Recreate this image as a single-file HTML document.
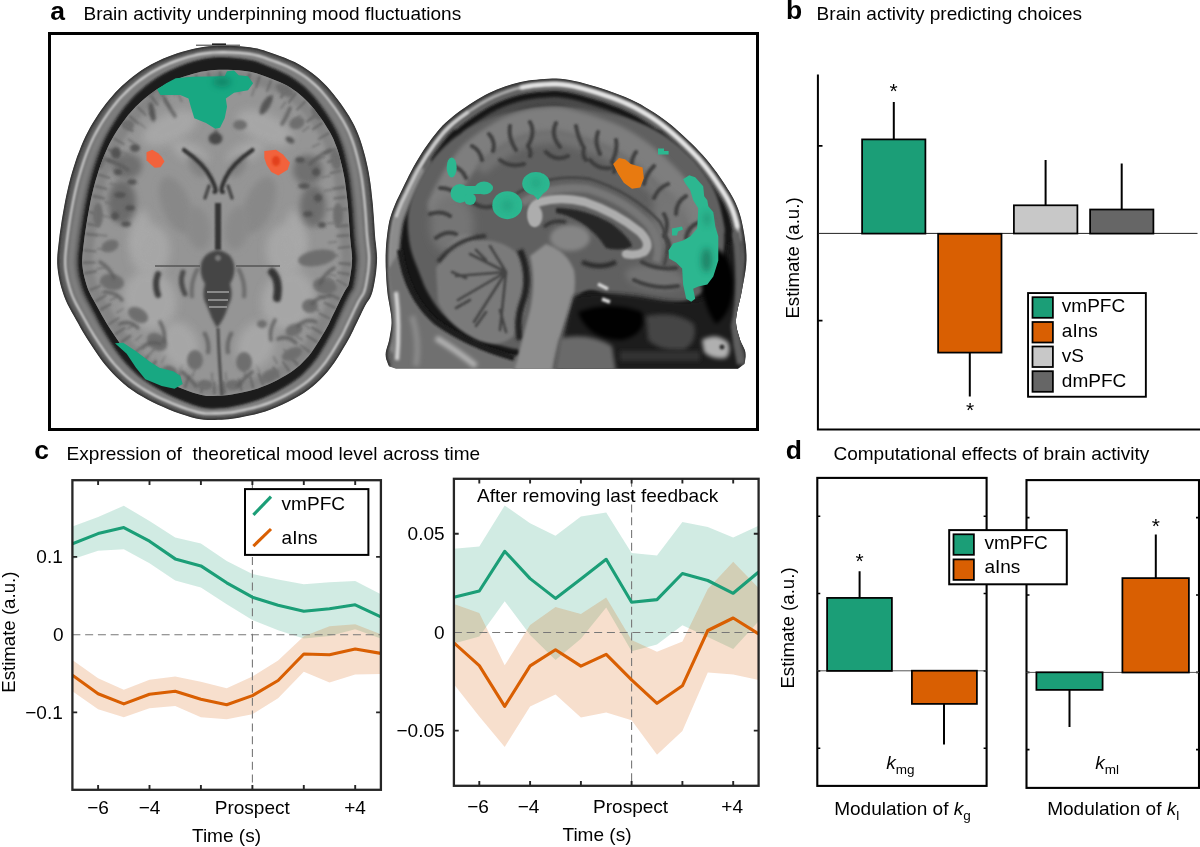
<!DOCTYPE html>
<html><head><meta charset="utf-8"><title>Figure</title>
<style>
html,body{margin:0;padding:0;background:#fff;}
body{width:1200px;height:847px;overflow:hidden;font-family:"Liberation Sans",sans-serif;}
svg{display:block;position:absolute;left:0;top:0;}
.t{font-family:"Liberation Sans",sans-serif;font-size:19.05px;fill:#000;}
.m{text-anchor:middle;}
.e{text-anchor:end;}
.i{font-style:italic;}
.sub{font-size:13.5px;}
.as{font-size:21px;}
.yl{font-size:18.65px;}
.pl{font-family:"Liberation Sans",sans-serif;font-weight:bold;font-size:26.5px;fill:#000;}
</style></head>
<body>
<svg width="1200" height="847" viewBox="0 0 1200 847">
<rect width="1200" height="847" fill="#fff"/>
<g opacity="0.999">
<!-- panel a -->
<g id="panel-a">
<defs>
<filter id="b05" filterUnits="userSpaceOnUse" x="40" y="30" width="730" height="410"><feGaussianBlur stdDeviation="0.5"/></filter>
<filter id="b1" filterUnits="userSpaceOnUse" x="40" y="30" width="730" height="410"><feGaussianBlur stdDeviation="1.0"/></filter>
<filter id="b15" filterUnits="userSpaceOnUse" x="40" y="30" width="730" height="410"><feGaussianBlur stdDeviation="1.5"/></filter>
<filter id="b2" filterUnits="userSpaceOnUse" x="40" y="30" width="730" height="410"><feGaussianBlur stdDeviation="2.0"/></filter>
<filter id="b3" filterUnits="userSpaceOnUse" x="40" y="30" width="730" height="410"><feGaussianBlur stdDeviation="3.0"/></filter>
<filter id="b4" filterUnits="userSpaceOnUse" x="40" y="30" width="730" height="410"><feGaussianBlur stdDeviation="4.0"/></filter>
<filter id="b6" filterUnits="userSpaceOnUse" x="40" y="30" width="730" height="410"><feGaussianBlur stdDeviation="6.0"/></filter>
<clipPath id="cpAout"><path d="M218.0 45.8 L223.1 45.7 L228.7 45.8 L234.3 46.0 L240.0 46.3 L245.2 46.8 L250.0 47.3 L254.0 47.9 L257.5 48.6 L260.6 49.4 L263.7 50.3 L267.0 51.4 L270.8 52.7 L275.1 54.2 L279.9 55.9 L284.8 57.8 L289.8 59.9 L294.7 62.1 L299.2 64.5 L303.4 67.0 L307.5 69.7 L311.4 72.5 L315.3 75.5 L319.1 78.7 L322.8 82.2 L326.6 86.1 L330.3 90.3 L334.0 94.7 L337.5 99.2 L340.9 103.8 L344.0 108.2 L346.8 112.5 L349.4 116.6 L351.8 120.8 L354.1 125.0 L356.2 129.5 L358.2 134.2 L360.1 139.3 L361.9 144.7 L363.5 150.3 L365.1 155.9 L366.4 161.6 L367.7 167.2 L368.8 172.7 L369.7 178.2 L370.5 183.6 L371.2 189.1 L371.8 194.7 L372.4 200.3 L373.0 206.1 L373.4 212.0 L373.9 218.0 L374.3 223.9 L374.6 229.6 L375.0 235.0 L375.4 239.9 L376.0 244.5 L376.4 248.8 L376.8 253.1 L377.1 257.4 L377.0 262.0 L376.6 267.0 L376.1 272.4 L375.3 277.8 L374.4 283.1 L373.4 287.9 L372.4 292.0 L371.3 295.2 L370.2 297.7 L369.0 299.7 L367.7 301.6 L366.4 303.6 L365.0 306.0 L363.6 308.8 L362.1 311.8 L360.6 314.9 L359.1 318.1 L357.6 321.3 L356.0 324.5 L354.5 327.5 L353.2 330.4 L351.8 333.3 L350.3 336.3 L348.5 339.6 L346.4 343.3 L343.8 347.6 L341.0 352.3 L337.8 357.4 L334.5 362.4 L331.0 367.3 L327.5 371.7 L323.9 375.7 L320.3 379.5 L316.6 383.0 L312.6 386.4 L308.4 389.7 L303.9 392.9 L298.9 396.0 L293.5 399.1 L287.8 402.0 L282.0 404.8 L276.3 407.3 L270.8 409.5 L265.4 411.4 L260.0 413.0 L254.7 414.4 L249.5 415.6 L244.6 416.6 L240.0 417.5 L235.8 418.3 L232.0 418.8 L228.4 419.2 L225.0 419.5 L221.6 419.7 L218.0 419.8 L214.5 419.9 L211.1 420.0 L207.7 420.0 L204.1 419.8 L200.3 419.3 L196.0 418.5 L191.1 417.2 L185.8 415.6 L180.2 413.8 L174.4 411.7 L168.8 409.4 L163.3 407.1 L158.0 404.7 L152.7 402.2 L147.4 399.5 L142.2 396.6 L137.3 393.7 L132.6 390.6 L128.2 387.4 L124.0 384.0 L120.1 380.5 L116.3 376.9 L112.6 373.2 L109.0 369.3 L105.5 365.2 L102.1 360.9 L98.9 356.4 L95.8 352.0 L92.8 347.5 L90.0 343.3 L87.4 339.2 L84.9 335.3 L82.6 331.4 L80.3 327.5 L78.2 323.6 L76.0 319.7 L73.8 315.8 L71.6 312.0 L69.5 308.1 L67.5 304.2 L65.7 300.2 L64.0 296.0 L62.5 291.6 L61.1 287.0 L59.9 282.3 L58.9 277.5 L58.1 272.7 L57.5 268.0 L57.2 263.5 L57.2 259.1 L57.4 254.7 L57.8 250.2 L58.4 245.3 L59.0 240.0 L59.7 234.0 L60.7 227.4 L61.7 220.5 L62.9 213.5 L64.1 206.7 L65.3 200.3 L66.5 194.4 L67.8 188.7 L69.1 183.2 L70.5 177.8 L72.0 172.5 L73.6 167.2 L75.3 161.9 L77.1 156.6 L79.1 151.4 L81.1 146.3 L83.2 141.3 L85.4 136.5 L87.7 131.9 L90.2 127.3 L92.7 123.0 L95.4 118.7 L98.1 114.6 L100.8 110.6 L103.6 106.7 L106.4 103.0 L109.3 99.4 L112.3 96.0 L115.3 92.6 L118.5 89.3 L121.8 86.1 L125.2 83.0 L128.7 79.9 L132.3 77.0 L136.0 74.2 L139.7 71.6 L143.4 69.1 L147.2 66.8 L151.0 64.6 L155.0 62.5 L159.1 60.5 L163.3 58.6 L167.8 56.8 L172.5 55.0 L177.3 53.3 L182.2 51.8 L187.0 50.4 L191.7 49.2 L196.1 48.2 L200.4 47.4 L204.6 46.8 L208.9 46.3 L213.3 46.0Z"/></clipPath>
<clipPath id="cpAbrain"><path d="M218.7 69.8 L223.1 69.7 L228.1 69.8 L233.2 70.0 L238.3 70.3 L242.9 70.8 L246.9 71.2 L250.0 71.7 L252.3 72.2 L254.2 72.7 L256.4 73.3 L259.2 74.3 L262.8 75.6 L267.0 77.1 L271.4 78.7 L275.8 80.4 L280.1 82.2 L283.9 84.0 L287.3 85.8 L290.6 87.8 L293.8 89.9 L296.8 92.1 L299.8 94.4 L302.7 97.0 L305.6 99.7 L308.6 102.8 L311.7 106.3 L314.8 110.1 L317.9 114.2 L320.9 118.2 L323.6 122.1 L326.0 125.9 L328.2 129.4 L330.2 132.7 L331.9 136.1 L333.6 139.6 L335.1 143.4 L336.7 147.5 L338.2 152.1 L339.6 157.0 L340.9 162.1 L342.2 167.3 L343.3 172.3 L344.3 177.2 L345.1 182.0 L345.7 186.9 L346.4 192.1 L347.0 197.4 L347.6 202.8 L348.1 208.3 L348.5 213.9 L348.9 219.7 L349.3 225.6 L349.7 231.3 L350.1 237.0 L350.6 242.4 L351.1 247.3 L351.6 251.4 L351.9 254.8 L352.1 257.9 L352.0 260.9 L351.8 264.8 L351.3 269.3 L350.6 274.0 L349.9 278.5 L349.1 282.5 L348.4 285.2 L348.1 286.2 L348.1 286.1 L348.0 286.2 L347.0 287.6 L345.1 290.6 L343.0 294.4 L341.3 297.8 L339.7 301.0 L338.2 304.2 L336.7 307.3 L335.2 310.4 L333.7 313.6 L332.1 316.8 L330.7 319.8 L329.5 322.4 L328.3 324.9 L326.9 327.5 L325.1 330.7 L322.7 334.8 L319.9 339.4 L317.0 344.0 L314.1 348.5 L311.4 352.5 L308.7 355.9 L305.9 359.0 L303.0 362.1 L300.1 364.9 L297.1 367.5 L293.9 370.0 L290.4 372.5 L286.4 375.1 L281.9 377.6 L277.0 380.2 L271.9 382.7 L266.9 384.9 L262.2 386.8 L257.9 388.4 L253.5 389.7 L249.0 390.9 L244.4 392.0 L239.8 393.0 L235.5 393.8 L231.9 394.5 L228.9 395.0 L226.1 395.3 L223.4 395.5 L220.6 395.7 L217.3 395.8 L213.7 395.9 L210.7 396.0 L208.3 396.0 L206.3 395.9 L204.1 395.6 L201.4 395.0 L197.7 394.0 L193.1 392.7 L188.2 391.0 L183.0 389.0 L177.9 387.0 L173.0 384.9 L168.2 382.7 L163.4 380.4 L158.8 377.9 L154.3 375.5 L150.3 373.0 L146.5 370.5 L143.1 368.0 L139.8 365.3 L136.6 362.4 L133.5 359.4 L130.4 356.2 L127.4 353.0 L124.6 349.6 L121.8 346.0 L119.0 342.1 L116.2 338.0 L113.4 333.8 L110.7 329.7 L108.3 325.9 L106.1 322.4 L104.0 318.8 L101.9 315.2 L99.9 311.5 L97.7 307.6 L95.5 303.6 L93.4 299.8 L91.5 296.4 L89.9 293.3 L88.6 290.4 L87.4 287.4 L86.3 284.0 L85.2 280.3 L84.2 276.5 L83.4 272.7 L82.8 269.1 L82.4 265.8 L82.2 262.7 L82.2 259.7 L82.4 256.5 L82.7 252.7 L83.2 248.1 L83.8 243.0 L84.5 237.3 L85.4 231.0 L86.4 224.4 L87.5 217.7 L88.7 211.2 L89.8 205.2 L90.9 199.6 L92.1 194.3 L93.3 189.2 L94.6 184.3 L95.9 179.5 L97.4 174.7 L98.9 169.8 L100.6 165.0 L102.3 160.2 L104.1 155.7 L105.9 151.4 L107.8 147.2 L109.7 143.3 L111.8 139.5 L113.9 135.7 L116.2 132.0 L118.6 128.3 L121.0 124.8 L123.4 121.4 L125.8 118.2 L128.2 115.1 L130.7 112.2 L133.2 109.4 L135.9 106.6 L138.6 103.9 L141.5 101.3 L144.4 98.7 L147.4 96.3 L150.4 93.9 L153.5 91.7 L156.6 89.6 L159.7 87.7 L162.8 85.9 L166.0 84.1 L169.4 82.5 L172.9 80.9 L176.7 79.3 L180.7 77.7 L184.9 76.2 L189.2 74.9 L193.3 73.7 L197.2 72.7 L200.9 71.8 L204.4 71.2 L207.7 70.7 L211.1 70.3 L214.8 70.0Z"/></clipPath>
</defs>
<g id="axial">
<g clip-path="url(#cpAout)">
<path d="M218.0 45.8 L223.1 45.7 L228.7 45.8 L234.3 46.0 L240.0 46.3 L245.2 46.8 L250.0 47.3 L254.0 47.9 L257.5 48.6 L260.6 49.4 L263.7 50.3 L267.0 51.4 L270.8 52.7 L275.1 54.2 L279.9 55.9 L284.8 57.8 L289.8 59.9 L294.7 62.1 L299.2 64.5 L303.4 67.0 L307.5 69.7 L311.4 72.5 L315.3 75.5 L319.1 78.7 L322.8 82.2 L326.6 86.1 L330.3 90.3 L334.0 94.7 L337.5 99.2 L340.9 103.8 L344.0 108.2 L346.8 112.5 L349.4 116.6 L351.8 120.8 L354.1 125.0 L356.2 129.5 L358.2 134.2 L360.1 139.3 L361.9 144.7 L363.5 150.3 L365.1 155.9 L366.4 161.6 L367.7 167.2 L368.8 172.7 L369.7 178.2 L370.5 183.6 L371.2 189.1 L371.8 194.7 L372.4 200.3 L373.0 206.1 L373.4 212.0 L373.9 218.0 L374.3 223.9 L374.6 229.6 L375.0 235.0 L375.4 239.9 L376.0 244.5 L376.4 248.8 L376.8 253.1 L377.1 257.4 L377.0 262.0 L376.6 267.0 L376.1 272.4 L375.3 277.8 L374.4 283.1 L373.4 287.9 L372.4 292.0 L371.3 295.2 L370.2 297.7 L369.0 299.7 L367.7 301.6 L366.4 303.6 L365.0 306.0 L363.6 308.8 L362.1 311.8 L360.6 314.9 L359.1 318.1 L357.6 321.3 L356.0 324.5 L354.5 327.5 L353.2 330.4 L351.8 333.3 L350.3 336.3 L348.5 339.6 L346.4 343.3 L343.8 347.6 L341.0 352.3 L337.8 357.4 L334.5 362.4 L331.0 367.3 L327.5 371.7 L323.9 375.7 L320.3 379.5 L316.6 383.0 L312.6 386.4 L308.4 389.7 L303.9 392.9 L298.9 396.0 L293.5 399.1 L287.8 402.0 L282.0 404.8 L276.3 407.3 L270.8 409.5 L265.4 411.4 L260.0 413.0 L254.7 414.4 L249.5 415.6 L244.6 416.6 L240.0 417.5 L235.8 418.3 L232.0 418.8 L228.4 419.2 L225.0 419.5 L221.6 419.7 L218.0 419.8 L214.5 419.9 L211.1 420.0 L207.7 420.0 L204.1 419.8 L200.3 419.3 L196.0 418.5 L191.1 417.2 L185.8 415.6 L180.2 413.8 L174.4 411.7 L168.8 409.4 L163.3 407.1 L158.0 404.7 L152.7 402.2 L147.4 399.5 L142.2 396.6 L137.3 393.7 L132.6 390.6 L128.2 387.4 L124.0 384.0 L120.1 380.5 L116.3 376.9 L112.6 373.2 L109.0 369.3 L105.5 365.2 L102.1 360.9 L98.9 356.4 L95.8 352.0 L92.8 347.5 L90.0 343.3 L87.4 339.2 L84.9 335.3 L82.6 331.4 L80.3 327.5 L78.2 323.6 L76.0 319.7 L73.8 315.8 L71.6 312.0 L69.5 308.1 L67.5 304.2 L65.7 300.2 L64.0 296.0 L62.5 291.6 L61.1 287.0 L59.9 282.3 L58.9 277.5 L58.1 272.7 L57.5 268.0 L57.2 263.5 L57.2 259.1 L57.4 254.7 L57.8 250.2 L58.4 245.3 L59.0 240.0 L59.7 234.0 L60.7 227.4 L61.7 220.5 L62.9 213.5 L64.1 206.7 L65.3 200.3 L66.5 194.4 L67.8 188.7 L69.1 183.2 L70.5 177.8 L72.0 172.5 L73.6 167.2 L75.3 161.9 L77.1 156.6 L79.1 151.4 L81.1 146.3 L83.2 141.3 L85.4 136.5 L87.7 131.9 L90.2 127.3 L92.7 123.0 L95.4 118.7 L98.1 114.6 L100.8 110.6 L103.6 106.7 L106.4 103.0 L109.3 99.4 L112.3 96.0 L115.3 92.6 L118.5 89.3 L121.8 86.1 L125.2 83.0 L128.7 79.9 L132.3 77.0 L136.0 74.2 L139.7 71.6 L143.4 69.1 L147.2 66.8 L151.0 64.6 L155.0 62.5 L159.1 60.5 L163.3 58.6 L167.8 56.8 L172.5 55.0 L177.3 53.3 L182.2 51.8 L187.0 50.4 L191.7 49.2 L196.1 48.2 L200.4 47.4 L204.6 46.8 L208.9 46.3 L213.3 46.0Z" fill="#5e5e5e"/>
<path d="M218.3 54.8 L223.1 54.8 L228.4 54.9 L233.9 55.3 L239.3 55.7 L244.3 56.2 L248.8 56.8 L252.4 57.5 L255.4 58.2 L258.0 58.9 L260.7 59.8 L263.8 60.9 L267.4 62.3 L271.7 63.9 L276.2 65.7 L280.9 67.7 L285.5 69.7 L289.9 71.9 L293.8 74.1 L297.6 76.5 L301.2 79.0 L304.6 81.6 L308.0 84.4 L311.3 87.4 L314.6 90.6 L317.9 94.2 L321.2 98.1 L324.5 102.3 L327.8 106.7 L330.8 111.0 L333.6 115.3 L336.2 119.3 L338.5 123.2 L340.6 127.0 L342.5 130.8 L344.3 134.8 L346.0 139.1 L347.7 143.7 L349.2 148.6 L350.7 153.9 L352.0 159.3 L353.3 164.7 L354.4 170.0 L355.3 175.1 L356.1 180.3 L356.8 185.5 L357.4 190.8 L358.0 196.2 L358.6 201.7 L359.1 207.3 L359.5 213.1 L359.9 219.0 L360.3 224.9 L360.7 230.6 L361.0 236.1 L361.5 241.3 L362.1 246.0 L362.5 250.2 L362.9 254.0 L363.1 257.7 L363.1 261.4 L362.8 265.8 L362.3 270.6 L361.6 275.7 L360.9 280.5 L360.0 284.9 L359.2 288.3 L358.6 290.3 L358.2 291.4 L357.5 292.4 L356.5 294.0 L354.8 296.5 L353.1 299.7 L351.5 302.9 L350.1 306.0 L348.6 309.2 L347.1 312.4 L345.7 315.5 L344.2 318.7 L342.7 321.9 L341.4 324.8 L340.1 327.6 L338.8 330.4 L337.3 333.3 L335.4 336.8 L333.0 341.0 L330.3 345.7 L327.4 350.6 L324.4 355.5 L321.3 360.0 L318.3 364.0 L315.2 367.6 L312.0 371.1 L308.8 374.4 L305.4 377.6 L301.7 380.6 L297.7 383.6 L293.3 386.5 L288.3 389.5 L283.1 392.4 L277.6 395.2 L272.3 397.7 L267.2 400.0 L262.3 401.9 L257.4 403.5 L252.4 404.9 L247.5 406.2 L242.7 407.3 L238.3 408.3 L234.3 409.1 L230.8 409.7 L227.6 410.1 L224.4 410.4 L221.2 410.7 L217.7 410.8 L214.2 410.9 L210.9 410.9 L207.9 410.9 L204.9 410.7 L201.8 410.2 L198.1 409.4 L193.7 408.1 L188.7 406.5 L183.4 404.5 L178.0 402.4 L172.6 400.1 L167.4 397.7 L162.4 395.3 L157.3 392.7 L152.4 390.0 L147.6 387.2 L143.2 384.3 L139.0 381.4 L135.1 378.4 L131.4 375.2 L127.9 372.0 L124.5 368.5 L121.2 365.0 L118.0 361.3 L114.9 357.5 L112.0 353.5 L109.0 349.3 L106.1 344.9 L103.3 340.5 L100.7 336.3 L98.2 332.3 L95.9 328.5 L93.8 324.8 L91.7 321.0 L89.7 317.2 L87.6 313.3 L85.4 309.3 L83.3 305.4 L81.4 301.8 L79.7 298.3 L78.1 294.9 L76.8 291.3 L75.5 287.4 L74.4 283.3 L73.3 279.1 L72.4 274.9 L71.8 270.7 L71.3 266.8 L71.1 263.0 L71.2 259.4 L71.4 255.7 L71.8 251.6 L72.3 246.9 L72.9 241.7 L73.6 235.8 L74.5 229.4 L75.5 222.7 L76.6 215.8 L77.8 209.2 L78.9 203.0 L80.1 197.3 L81.2 191.8 L82.5 186.5 L83.7 181.4 L85.1 176.3 L86.5 171.3 L88.1 166.2 L89.8 161.1 L91.5 156.1 L93.3 151.3 L95.2 146.6 L97.2 142.2 L99.2 137.8 L101.4 133.6 L103.7 129.5 L106.0 125.5 L108.5 121.6 L111.0 117.7 L113.5 114.1 L116.0 110.5 L118.6 107.1 L121.2 103.9 L124.0 100.7 L126.8 97.6 L129.8 94.5 L132.9 91.5 L136.0 88.7 L139.3 85.9 L142.6 83.2 L145.9 80.7 L149.3 78.3 L152.7 76.0 L156.2 73.9 L159.7 71.8 L163.5 69.9 L167.3 68.0 L171.5 66.2 L175.9 64.4 L180.4 62.6 L185.0 61.1 L189.5 59.6 L193.9 58.4 L198.0 57.4 L201.9 56.6 L205.8 55.9 L209.7 55.4 L213.9 55.0Z" fill="none" stroke="#7e7e7e" stroke-width="7" filter="url(#b15)"/>
<path d="M218.0 45.8 L223.1 45.7 L228.7 45.8 L234.3 46.0 L240.0 46.3 L245.2 46.8 L250.0 47.3 L254.0 47.9 L257.5 48.6 L260.6 49.4 L263.7 50.3 L267.0 51.4 L270.8 52.7 L275.1 54.2 L279.9 55.9 L284.8 57.8 L289.8 59.9 L294.7 62.1 L299.2 64.5 L303.4 67.0 L307.5 69.7 L311.4 72.5 L315.3 75.5 L319.1 78.7 L322.8 82.2 L326.6 86.1 L330.3 90.3 L334.0 94.7 L337.5 99.2 L340.9 103.8 L344.0 108.2 L346.8 112.5 L349.4 116.6 L351.8 120.8 L354.1 125.0 L356.2 129.5 L358.2 134.2 L360.1 139.3 L361.9 144.7 L363.5 150.3 L365.1 155.9 L366.4 161.6 L367.7 167.2 L368.8 172.7 L369.7 178.2 L370.5 183.6 L371.2 189.1 L371.8 194.7 L372.4 200.3 L373.0 206.1 L373.4 212.0 L373.9 218.0 L374.3 223.9 L374.6 229.6 L375.0 235.0 L375.4 239.9 L376.0 244.5 L376.4 248.8 L376.8 253.1 L377.1 257.4 L377.0 262.0 L376.6 267.0 L376.1 272.4 L375.3 277.8 L374.4 283.1 L373.4 287.9 L372.4 292.0 L371.3 295.2 L370.2 297.7 L369.0 299.7 L367.7 301.6 L366.4 303.6 L365.0 306.0 L363.6 308.8 L362.1 311.8 L360.6 314.9 L359.1 318.1 L357.6 321.3 L356.0 324.5 L354.5 327.5 L353.2 330.4 L351.8 333.3 L350.3 336.3 L348.5 339.6 L346.4 343.3 L343.8 347.6 L341.0 352.3 L337.8 357.4 L334.5 362.4 L331.0 367.3 L327.5 371.7 L323.9 375.7 L320.3 379.5 L316.6 383.0 L312.6 386.4 L308.4 389.7 L303.9 392.9 L298.9 396.0 L293.5 399.1 L287.8 402.0 L282.0 404.8 L276.3 407.3 L270.8 409.5 L265.4 411.4 L260.0 413.0 L254.7 414.4 L249.5 415.6 L244.6 416.6 L240.0 417.5 L235.8 418.3 L232.0 418.8 L228.4 419.2 L225.0 419.5 L221.6 419.7 L218.0 419.8 L214.5 419.9 L211.1 420.0 L207.7 420.0 L204.1 419.8 L200.3 419.3 L196.0 418.5 L191.1 417.2 L185.8 415.6 L180.2 413.8 L174.4 411.7 L168.8 409.4 L163.3 407.1 L158.0 404.7 L152.7 402.2 L147.4 399.5 L142.2 396.6 L137.3 393.7 L132.6 390.6 L128.2 387.4 L124.0 384.0 L120.1 380.5 L116.3 376.9 L112.6 373.2 L109.0 369.3 L105.5 365.2 L102.1 360.9 L98.9 356.4 L95.8 352.0 L92.8 347.5 L90.0 343.3 L87.4 339.2 L84.9 335.3 L82.6 331.4 L80.3 327.5 L78.2 323.6 L76.0 319.7 L73.8 315.8 L71.6 312.0 L69.5 308.1 L67.5 304.2 L65.7 300.2 L64.0 296.0 L62.5 291.6 L61.1 287.0 L59.9 282.3 L58.9 277.5 L58.1 272.7 L57.5 268.0 L57.2 263.5 L57.2 259.1 L57.4 254.7 L57.8 250.2 L58.4 245.3 L59.0 240.0 L59.7 234.0 L60.7 227.4 L61.7 220.5 L62.9 213.5 L64.1 206.7 L65.3 200.3 L66.5 194.4 L67.8 188.7 L69.1 183.2 L70.5 177.8 L72.0 172.5 L73.6 167.2 L75.3 161.9 L77.1 156.6 L79.1 151.4 L81.1 146.3 L83.2 141.3 L85.4 136.5 L87.7 131.9 L90.2 127.3 L92.7 123.0 L95.4 118.7 L98.1 114.6 L100.8 110.6 L103.6 106.7 L106.4 103.0 L109.3 99.4 L112.3 96.0 L115.3 92.6 L118.5 89.3 L121.8 86.1 L125.2 83.0 L128.7 79.9 L132.3 77.0 L136.0 74.2 L139.7 71.6 L143.4 69.1 L147.2 66.8 L151.0 64.6 L155.0 62.5 L159.1 60.5 L163.3 58.6 L167.8 56.8 L172.5 55.0 L177.3 53.3 L182.2 51.8 L187.0 50.4 L191.7 49.2 L196.1 48.2 L200.4 47.4 L204.6 46.8 L208.9 46.3 L213.3 46.0Z" fill="none" stroke="#2e2e2e" stroke-width="3.5" filter="url(#b1)"/>
<path d="M218.2 52.3 L223.1 52.2 L228.5 52.3 L234.0 52.6 L239.5 52.9 L244.6 53.4 L249.1 53.9 L252.9 54.5 L256.0 55.2 L258.8 55.9 L261.7 56.8 L264.8 57.8 L268.5 59.2 L272.8 60.7 L277.5 62.4 L282.2 64.3 L287.0 66.3 L291.5 68.5 L295.7 70.7 L299.7 73.1 L303.5 75.6 L307.1 78.2 L310.7 81.1 L314.2 84.1 L317.7 87.4 L321.2 91.1 L324.7 95.1 L328.2 99.4 L331.6 103.8 L334.8 108.2 L337.8 112.5 L340.4 116.6 L342.9 120.5 L345.1 124.5 L347.2 128.5 L349.2 132.6 L351.0 137.1 L352.8 141.9 L354.5 147.0 L356.0 152.4 L357.5 157.9 L358.8 163.4 L360.0 168.8 L361.0 174.1 L361.9 179.4 L362.6 184.7 L363.3 190.1 L363.9 195.6 L364.5 201.1 L365.0 206.8 L365.5 212.6 L365.9 218.6 L366.3 224.5 L366.6 230.2 L367.0 235.6 L367.5 240.7 L368.0 245.4 L368.5 249.6 L368.9 253.6 L369.1 257.6 L369.0 261.7 L368.7 266.3 L368.2 271.4 L367.4 276.6 L366.6 281.6 L365.7 286.2 L364.8 289.9 L364.0 292.4 L363.2 294.0 L362.4 295.5 L361.2 297.2 L359.7 299.5 L358.1 302.3 L356.6 305.4 L355.1 308.4 L353.6 311.6 L352.1 314.8 L350.6 317.9 L349.0 321.1 L347.6 324.2 L346.2 327.1 L344.9 329.9 L343.5 332.8 L341.9 335.9 L339.8 339.4 L337.3 343.6 L334.5 348.4 L331.5 353.3 L328.3 358.2 L325.1 362.8 L321.8 366.9 L318.5 370.7 L315.2 374.3 L311.7 377.6 L308.1 380.8 L304.2 383.9 L299.9 386.9 L295.3 389.9 L290.1 392.9 L284.7 395.7 L279.1 398.4 L273.6 400.9 L268.4 403.1 L263.3 404.9 L258.2 406.5 L253.1 407.9 L248.1 409.0 L243.3 410.1 L238.8 411.0 L234.7 411.8 L231.2 412.3 L227.8 412.7 L224.6 413.0 L221.3 413.2 L217.8 413.3 L214.3 413.4 L211.0 413.5 L207.9 413.5 L204.7 413.3 L201.3 412.8 L197.5 412.1 L192.9 410.8 L187.8 409.3 L182.4 407.4 L176.9 405.3 L171.3 403.1 L166.1 400.8 L160.9 398.4 L155.7 395.9 L150.7 393.3 L145.7 390.5 L141.1 387.7 L136.7 384.7 L132.6 381.7 L128.7 378.5 L125.0 375.2 L121.4 371.7 L117.9 368.1 L114.5 364.4 L111.3 360.5 L108.1 356.4 L105.0 352.1 L102.0 347.7 L99.1 343.3 L96.4 339.1 L93.8 335.1 L91.5 331.3 L89.2 327.5 L87.1 323.7 L84.9 319.8 L82.8 315.9 L80.6 312.0 L78.5 308.2 L76.4 304.4 L74.6 300.8 L72.9 297.1 L71.4 293.3 L70.0 289.2 L68.8 284.9 L67.6 280.4 L66.7 276.0 L65.9 271.6 L65.4 267.3 L65.2 263.2 L65.2 259.3 L65.4 255.3 L65.8 251.0 L66.3 246.2 L66.9 241.0 L67.7 235.0 L68.6 228.5 L69.6 221.7 L70.7 214.8 L71.9 208.1 L73.1 201.9 L74.3 196.0 L75.5 190.5 L76.8 185.1 L78.1 179.9 L79.6 174.7 L81.1 169.6 L82.8 164.4 L84.5 159.2 L86.3 154.2 L88.3 149.2 L90.3 144.4 L92.4 139.8 L94.5 135.4 L96.9 131.1 L99.3 126.9 L101.8 122.8 L104.3 118.8 L107.0 114.9 L109.6 111.2 L112.3 107.6 L115.0 104.2 L117.8 100.8 L120.7 97.6 L123.7 94.5 L126.8 91.4 L130.0 88.4 L133.4 85.5 L136.8 82.7 L140.2 80.0 L143.7 77.5 L147.2 75.1 L150.8 72.8 L154.4 70.7 L158.1 68.7 L162.0 66.8 L166.0 64.9 L170.3 63.1 L174.8 61.4 L179.5 59.7 L184.1 58.2 L188.8 56.8 L193.2 55.7 L197.4 54.7 L201.5 53.9 L205.5 53.3 L209.5 52.9 L213.7 52.5Z" fill="none" stroke="#dadada" stroke-width="2.2" filter="url(#b1)"/>
<path d="M218.3 57.3 L223.1 57.3 L228.4 57.6 L233.8 58.0 L239.1 58.5 L244.1 59.2 L248.4 59.9 L251.9 60.6 L254.7 61.3 L257.1 62.1 L259.7 63.0 L262.7 64.2 L266.3 65.7 L270.5 67.4 L274.9 69.3 L279.5 71.3 L283.9 73.4 L288.0 75.6 L291.8 77.9 L295.2 80.2 L298.6 82.7 L301.9 85.3 L305.0 88.0 L308.0 91.0 L311.1 94.2 L314.1 97.6 L317.2 101.5 L320.4 105.7 L323.4 110.0 L326.3 114.3 L329.0 118.5 L331.4 122.4 L333.5 126.2 L335.4 129.8 L337.1 133.5 L338.7 137.3 L340.3 141.4 L341.8 145.8 L343.2 150.5 L344.5 155.6 L345.7 160.9 L346.9 166.2 L347.9 171.4 L348.8 176.3 L349.5 181.3 L350.1 186.4 L350.7 191.6 L351.2 197.0 L351.7 202.4 L352.2 207.9 L352.6 213.6 L353.0 219.5 L353.3 225.3 L353.7 231.1 L354.1 236.7 L354.6 242.0 L355.1 246.8 L355.6 250.9 L356.0 254.5 L356.2 257.8 L356.2 261.1 L355.9 265.1 L355.5 269.8 L354.9 274.6 L354.2 279.3 L353.4 283.4 L352.8 286.5 L352.4 287.9 L352.3 288.3 L352.0 288.8 L351.0 290.3 L349.2 293.1 L347.3 296.7 L345.7 300.0 L344.3 303.2 L342.8 306.4 L341.4 309.6 L340.0 312.8 L338.6 316.0 L337.1 319.2 L335.8 322.2 L334.6 324.9 L333.5 327.6 L332.1 330.4 L330.3 333.8 L328.0 338.0 L325.4 342.8 L322.7 347.6 L319.8 352.4 L317.1 356.8 L314.3 360.6 L311.5 364.2 L308.5 367.6 L305.5 370.8 L302.4 373.9 L298.9 376.9 L295.2 379.8 L291.0 382.8 L286.3 385.8 L281.3 388.8 L276.0 391.7 L270.8 394.3 L265.9 396.6 L261.2 398.6 L256.5 400.3 L251.6 401.8 L246.8 403.2 L242.1 404.4 L237.7 405.5 L233.9 406.3 L230.5 407.0 L227.3 407.5 L224.2 407.9 L221.1 408.1 L217.6 408.3 L214.1 408.4 L210.9 408.4 L208.0 408.3 L205.2 408.0 L202.2 407.5 L198.7 406.6 L194.5 405.3 L189.7 403.6 L184.5 401.5 L179.1 399.3 L173.9 396.9 L168.8 394.4 L163.9 391.9 L159.1 389.2 L154.3 386.4 L149.7 383.6 L145.5 380.7 L141.5 377.7 L137.9 374.7 L134.5 371.6 L131.2 368.4 L128.0 365.0 L124.9 361.5 L121.9 357.8 L119.1 354.1 L116.3 350.2 L113.6 346.0 L110.8 341.7 L108.1 337.3 L105.6 333.1 L103.2 329.1 L101.1 325.4 L99.1 321.7 L97.1 317.9 L95.2 314.1 L93.1 310.2 L91.0 306.1 L89.0 302.3 L87.2 298.7 L85.6 295.4 L84.2 292.3 L83.1 289.0 L81.9 285.4 L80.9 281.5 L79.9 277.5 L79.1 273.6 L78.6 269.8 L78.2 266.2 L78.1 262.8 L78.1 259.6 L78.3 256.2 L78.7 252.3 L79.2 247.7 L79.8 242.5 L80.6 236.7 L81.4 230.4 L82.4 223.8 L83.5 217.0 L84.6 210.4 L85.7 204.4 L86.8 198.7 L87.9 193.3 L89.0 188.2 L90.2 183.1 L91.5 178.2 L92.8 173.2 L94.3 168.2 L95.9 163.3 L97.5 158.4 L99.2 153.7 L100.9 149.1 L102.7 144.8 L104.6 140.6 L106.6 136.6 L108.7 132.5 L110.9 128.6 L113.2 124.7 L115.5 120.9 L117.9 117.3 L120.2 113.8 L122.6 110.5 L125.1 107.3 L127.7 104.2 L130.3 101.1 L133.1 98.1 L136.0 95.1 L139.0 92.2 L142.1 89.4 L145.2 86.7 L148.3 84.2 L151.6 81.8 L154.8 79.5 L158.1 77.3 L161.5 75.3 L165.0 73.3 L168.8 71.3 L172.8 69.4 L177.0 67.5 L181.5 65.7 L185.9 64.1 L190.3 62.6 L194.5 61.3 L198.6 60.2 L202.4 59.3 L206.1 58.6 L210.0 58.0 L214.0 57.6Z" fill="#1c1c1c" filter="url(#b1)"/>
</g>
<path d="M196 45.2H240" stroke="#333" stroke-width="1"/><path d="M212 44.2h14" stroke="#222" stroke-width="1.6"/>
<path d="M218.7 69.8 L223.1 69.7 L228.1 69.8 L233.2 70.0 L238.3 70.3 L242.9 70.8 L246.9 71.2 L250.0 71.7 L252.3 72.2 L254.2 72.7 L256.4 73.3 L259.2 74.3 L262.8 75.6 L267.0 77.1 L271.4 78.7 L275.8 80.4 L280.1 82.2 L283.9 84.0 L287.3 85.8 L290.6 87.8 L293.8 89.9 L296.8 92.1 L299.8 94.4 L302.7 97.0 L305.6 99.7 L308.6 102.8 L311.7 106.3 L314.8 110.1 L317.9 114.2 L320.9 118.2 L323.6 122.1 L326.0 125.9 L328.2 129.4 L330.2 132.7 L331.9 136.1 L333.6 139.6 L335.1 143.4 L336.7 147.5 L338.2 152.1 L339.6 157.0 L340.9 162.1 L342.2 167.3 L343.3 172.3 L344.3 177.2 L345.1 182.0 L345.7 186.9 L346.4 192.1 L347.0 197.4 L347.6 202.8 L348.1 208.3 L348.5 213.9 L348.9 219.7 L349.3 225.6 L349.7 231.3 L350.1 237.0 L350.6 242.4 L351.1 247.3 L351.6 251.4 L351.9 254.8 L352.1 257.9 L352.0 260.9 L351.8 264.8 L351.3 269.3 L350.6 274.0 L349.9 278.5 L349.1 282.5 L348.4 285.2 L348.1 286.2 L348.1 286.1 L348.0 286.2 L347.0 287.6 L345.1 290.6 L343.0 294.4 L341.3 297.8 L339.7 301.0 L338.2 304.2 L336.7 307.3 L335.2 310.4 L333.7 313.6 L332.1 316.8 L330.7 319.8 L329.5 322.4 L328.3 324.9 L326.9 327.5 L325.1 330.7 L322.7 334.8 L319.9 339.4 L317.0 344.0 L314.1 348.5 L311.4 352.5 L308.7 355.9 L305.9 359.0 L303.0 362.1 L300.1 364.9 L297.1 367.5 L293.9 370.0 L290.4 372.5 L286.4 375.1 L281.9 377.6 L277.0 380.2 L271.9 382.7 L266.9 384.9 L262.2 386.8 L257.9 388.4 L253.5 389.7 L249.0 390.9 L244.4 392.0 L239.8 393.0 L235.5 393.8 L231.9 394.5 L228.9 395.0 L226.1 395.3 L223.4 395.5 L220.6 395.7 L217.3 395.8 L213.7 395.9 L210.7 396.0 L208.3 396.0 L206.3 395.9 L204.1 395.6 L201.4 395.0 L197.7 394.0 L193.1 392.7 L188.2 391.0 L183.0 389.0 L177.9 387.0 L173.0 384.9 L168.2 382.7 L163.4 380.4 L158.8 377.9 L154.3 375.5 L150.3 373.0 L146.5 370.5 L143.1 368.0 L139.8 365.3 L136.6 362.4 L133.5 359.4 L130.4 356.2 L127.4 353.0 L124.6 349.6 L121.8 346.0 L119.0 342.1 L116.2 338.0 L113.4 333.8 L110.7 329.7 L108.3 325.9 L106.1 322.4 L104.0 318.8 L101.9 315.2 L99.9 311.5 L97.7 307.6 L95.5 303.6 L93.4 299.8 L91.5 296.4 L89.9 293.3 L88.6 290.4 L87.4 287.4 L86.3 284.0 L85.2 280.3 L84.2 276.5 L83.4 272.7 L82.8 269.1 L82.4 265.8 L82.2 262.7 L82.2 259.7 L82.4 256.5 L82.7 252.7 L83.2 248.1 L83.8 243.0 L84.5 237.3 L85.4 231.0 L86.4 224.4 L87.5 217.7 L88.7 211.2 L89.8 205.2 L90.9 199.6 L92.1 194.3 L93.3 189.2 L94.6 184.3 L95.9 179.5 L97.4 174.7 L98.9 169.8 L100.6 165.0 L102.3 160.2 L104.1 155.7 L105.9 151.4 L107.8 147.2 L109.7 143.3 L111.8 139.5 L113.9 135.7 L116.2 132.0 L118.6 128.3 L121.0 124.8 L123.4 121.4 L125.8 118.2 L128.2 115.1 L130.7 112.2 L133.2 109.4 L135.9 106.6 L138.6 103.9 L141.5 101.3 L144.4 98.7 L147.4 96.3 L150.4 93.9 L153.5 91.7 L156.6 89.6 L159.7 87.7 L162.8 85.9 L166.0 84.1 L169.4 82.5 L172.9 80.9 L176.7 79.3 L180.7 77.7 L184.9 76.2 L189.2 74.9 L193.3 73.7 L197.2 72.7 L200.9 71.8 L204.4 71.2 L207.7 70.7 L211.1 70.3 L214.8 70.0Z" fill="#959595" filter="url(#b05)"/>
<g clip-path="url(#cpAbrain)"><g filter="url(#b05)">
<path d="M218.9 75.8 L223.2 75.7 L227.9 75.8 L232.9 76.0 L237.8 76.3 L242.4 76.6 L246.2 77.1 L249.0 77.5 L251.0 77.9 L252.7 78.3 L254.7 78.9 L257.3 79.8 L260.9 81.0 L265.1 82.5 L269.4 84.1 L273.7 85.7 L277.8 87.4 L281.4 89.1 L284.6 90.7 L287.6 92.5 L290.6 94.5 L293.5 96.5 L296.3 98.7 L299.0 101.0 L301.8 103.6 L304.6 106.5 L307.6 109.8 L310.6 113.5 L313.7 117.4 L316.6 121.3 L319.2 125.1 L321.6 128.7 L323.7 132.1 L325.6 135.3 L327.2 138.4 L328.8 141.8 L330.3 145.3 L331.8 149.3 L333.3 153.6 L334.7 158.4 L336.0 163.4 L337.2 168.5 L338.3 173.4 L339.3 178.1 L340.1 182.8 L340.7 187.6 L341.4 192.7 L342.0 198.0 L342.6 203.4 L343.1 208.7 L343.5 214.3 L343.9 220.1 L344.3 225.9 L344.7 231.7 L345.1 237.4 L345.6 242.9 L346.1 247.8 L346.6 251.9 L346.9 255.2 L347.1 257.9 L347.0 260.7 L346.8 264.3 L346.3 268.6 L345.6 273.2 L344.9 277.6 L344.1 281.4 L343.5 283.9 L343.4 284.4 L343.6 283.7 L343.7 283.5 L342.8 284.8 L340.7 288.0 L338.5 292.0 L336.7 295.6 L335.1 298.8 L333.6 302.0 L332.1 305.1 L330.6 308.2 L329.0 311.3 L327.5 314.6 L326.1 317.6 L324.8 320.2 L323.7 322.5 L322.4 325.0 L320.6 328.0 L318.1 332.1 L315.4 336.6 L312.6 341.2 L309.7 345.5 L307.1 349.2 L304.5 352.4 L301.9 355.4 L299.2 358.2 L296.4 360.8 L293.6 363.2 L290.6 365.6 L287.3 367.9 L283.6 370.2 L279.2 372.7 L274.5 375.1 L269.5 377.5 L264.6 379.6 L260.2 381.4 L256.1 382.9 L252.0 384.1 L247.6 385.2 L243.1 386.3 L238.7 387.2 L234.4 388.0 L230.9 388.7 L228.1 389.1 L225.5 389.4 L223.0 389.6 L220.3 389.7 L217.1 389.8 L213.6 389.9 L210.6 390.0 L208.5 390.0 L206.8 389.9 L205.1 389.7 L202.7 389.3 L199.3 388.4 L194.9 387.1 L190.1 385.4 L185.1 383.6 L180.1 381.6 L175.3 379.6 L170.6 377.5 L165.9 375.3 L161.4 372.9 L157.1 370.6 L153.2 368.3 L149.7 366.0 L146.5 363.6 L143.3 361.1 L140.3 358.4 L137.3 355.5 L134.3 352.5 L131.4 349.4 L128.8 346.2 L126.1 342.8 L123.4 339.1 L120.6 335.0 L117.8 330.9 L115.1 326.8 L112.7 323.1 L110.5 319.7 L108.4 316.2 L106.4 312.7 L104.4 309.0 L102.2 305.1 L100.0 301.1 L97.8 297.3 L96.0 294.0 L94.5 291.1 L93.2 288.4 L92.2 285.7 L91.1 282.5 L90.0 278.9 L89.1 275.3 L88.3 271.8 L87.7 268.4 L87.4 265.3 L87.2 262.6 L87.2 259.9 L87.4 256.8 L87.7 253.2 L88.2 248.7 L88.8 243.6 L89.5 237.9 L90.4 231.7 L91.4 225.2 L92.4 218.5 L93.6 212.1 L94.7 206.2 L95.9 200.7 L97.0 195.4 L98.2 190.4 L99.5 185.6 L100.8 180.9 L102.2 176.2 L103.8 171.4 L105.4 166.7 L107.1 162.1 L108.8 157.7 L110.6 153.4 L112.4 149.5 L114.3 145.7 L116.3 142.0 L118.4 138.4 L120.7 134.8 L123.0 131.3 L125.3 127.8 L127.7 124.6 L130.0 121.5 L132.4 118.6 L134.8 115.8 L137.2 113.1 L139.7 110.5 L142.4 107.9 L145.1 105.4 L148.0 102.9 L150.8 100.6 L153.8 98.4 L156.7 96.3 L159.6 94.4 L162.6 92.6 L165.5 90.8 L168.6 89.2 L171.8 87.7 L175.1 86.2 L178.8 84.7 L182.7 83.2 L186.8 81.8 L190.9 80.5 L194.8 79.3 L198.6 78.4 L202.1 77.6 L205.3 77.0 L208.5 76.6 L211.7 76.2 L215.1 76.0Z" fill="none" stroke="#848484" stroke-width="11" filter="url(#b2)"/>
<path d="M219.0 77.8 L223.2 77.7 L227.9 77.8 L232.8 78.0 L237.7 78.3 L242.2 78.6 L245.9 79.0 L248.7 79.4 L250.6 79.8 L252.2 80.2 L254.0 80.8 L256.7 81.7 L260.2 82.9 L264.4 84.4 L268.7 85.9 L273.0 87.6 L277.0 89.2 L280.6 90.8 L283.6 92.5 L286.6 94.2 L289.5 96.1 L292.3 98.1 L295.0 100.2 L297.7 102.5 L300.4 105.0 L303.1 107.9 L306.1 111.1 L309.1 114.8 L312.1 118.6 L314.9 122.5 L317.6 126.2 L319.9 129.8 L322.0 133.1 L323.8 136.2 L325.5 139.3 L327.0 142.6 L328.5 146.1 L329.9 149.9 L331.4 154.2 L332.7 158.9 L334.1 163.9 L335.3 168.9 L336.4 173.8 L337.3 178.4 L338.1 183.1 L338.8 187.9 L339.4 192.9 L340.0 198.2 L340.6 203.6 L341.1 208.9 L341.5 214.5 L341.9 220.2 L342.3 226.0 L342.7 231.8 L343.1 237.5 L343.6 243.1 L344.2 248.1 L344.6 252.1 L344.9 255.3 L345.1 258.0 L345.0 260.6 L344.8 264.1 L344.3 268.4 L343.7 272.9 L342.9 277.2 L342.2 280.9 L341.6 283.3 L341.5 283.7 L341.9 282.8 L342.1 282.4 L341.2 283.7 L339.0 286.9 L336.7 291.1 L334.9 294.7 L333.3 297.9 L331.8 301.1 L330.3 304.2 L328.8 307.3 L327.3 310.4 L325.7 313.7 L324.2 316.7 L323.0 319.3 L321.9 321.6 L320.6 324.0 L318.9 327.0 L316.4 331.0 L313.7 335.6 L310.9 340.1 L308.1 344.3 L305.5 348.0 L303.0 351.1 L300.4 354.0 L297.7 356.8 L295.1 359.3 L292.4 361.7 L289.4 364.0 L286.2 366.2 L282.6 368.5 L278.3 370.9 L273.6 373.3 L268.7 375.7 L263.9 377.8 L259.5 379.6 L255.5 381.0 L251.4 382.2 L247.1 383.3 L242.7 384.3 L238.3 385.2 L234.1 386.1 L230.6 386.7 L227.8 387.1 L225.3 387.4 L222.9 387.6 L220.2 387.7 L217.0 387.8 L213.5 387.9 L210.6 388.0 L208.6 388.0 L207.0 387.9 L205.4 387.8 L203.2 387.3 L199.8 386.4 L195.5 385.2 L190.8 383.6 L185.8 381.7 L180.9 379.8 L176.1 377.8 L171.5 375.7 L166.8 373.5 L162.3 371.2 L158.1 368.9 L154.3 366.6 L150.9 364.3 L147.7 362.0 L144.6 359.5 L141.7 356.9 L138.7 354.1 L135.8 351.1 L132.9 348.1 L130.3 345.0 L127.7 341.6 L125.0 337.9 L122.2 333.9 L119.4 329.8 L116.7 325.7 L114.4 322.1 L112.2 318.6 L110.2 315.2 L108.2 311.7 L106.1 308.0 L104.0 304.2 L101.7 300.1 L99.6 296.4 L97.8 293.1 L96.3 290.2 L95.1 287.6 L94.1 285.0 L93.0 281.9 L92.0 278.4 L91.0 274.9 L90.3 271.4 L89.7 268.1 L89.4 265.2 L89.2 262.5 L89.2 259.9 L89.4 256.9 L89.7 253.4 L90.2 248.9 L90.8 243.8 L91.5 238.2 L92.3 232.0 L93.3 225.5 L94.4 218.9 L95.5 212.5 L96.7 206.5 L97.8 201.1 L99.0 195.9 L100.2 190.9 L101.4 186.2 L102.7 181.5 L104.1 176.8 L105.7 172.0 L107.3 167.3 L109.0 162.8 L110.7 158.4 L112.4 154.3 L114.2 150.4 L116.1 146.7 L118.1 143.0 L120.2 139.4 L122.4 135.9 L124.6 132.4 L127.0 129.0 L129.3 125.8 L131.6 122.7 L133.9 119.9 L136.3 117.1 L138.7 114.5 L141.2 111.9 L143.8 109.4 L146.5 106.9 L149.3 104.5 L152.1 102.2 L154.9 100.0 L157.8 98.0 L160.7 96.1 L163.6 94.3 L166.5 92.6 L169.5 91.0 L172.6 89.5 L175.9 88.0 L179.5 86.5 L183.4 85.1 L187.4 83.7 L191.4 82.4 L195.4 81.3 L199.0 80.3 L202.5 79.6 L205.7 79.0 L208.7 78.6 L211.8 78.2 L215.2 78.0Z" fill="none" stroke="#585858" stroke-width="13" stroke-dasharray="2.6 9.4 2.2 13.8 3 7" filter="url(#b1)" opacity="0.55"/>
<path d="M219.3 88.8 L223.2 88.7 L227.6 88.8 L232.3 89.0 L236.9 89.2 L241.1 89.6 L244.5 89.9 L246.8 90.3 L248.2 90.6 L249.3 90.8 L250.7 91.3 L253.1 92.1 L256.6 93.3 L260.7 94.7 L264.9 96.2 L268.9 97.8 L272.6 99.3 L275.7 100.7 L278.3 102.1 L280.8 103.6 L283.3 105.2 L285.7 106.9 L288.0 108.7 L290.4 110.7 L292.7 112.9 L295.1 115.4 L297.7 118.3 L300.5 121.7 L303.3 125.3 L306.0 128.9 L308.5 132.4 L310.7 135.8 L312.6 138.8 L314.2 141.6 L315.6 144.3 L317.0 147.1 L318.3 150.1 L319.6 153.6 L320.9 157.5 L322.2 161.9 L323.4 166.6 L324.6 171.4 L325.6 176.1 L326.5 180.4 L327.2 184.7 L327.9 189.3 L328.5 194.2 L329.1 199.4 L329.6 204.7 L330.1 209.9 L330.6 215.3 L331.0 221.0 L331.3 226.7 L331.7 232.5 L332.1 238.4 L332.7 244.2 L333.2 249.3 L333.7 253.2 L334.0 256.1 L334.1 258.2 L334.0 260.2 L333.8 263.1 L333.4 267.0 L332.8 271.2 L332.1 275.2 L331.4 278.6 L331.0 280.4 L331.2 279.7 L332.1 277.7 L332.8 276.5 L332.1 277.5 L329.7 281.2 L327.0 285.9 L325.0 289.9 L323.4 293.1 L321.9 296.3 L320.4 299.5 L318.9 302.5 L317.4 305.6 L315.7 309.0 L314.3 312.1 L313.1 314.5 L312.1 316.5 L311.0 318.6 L309.4 321.4 L307.0 325.4 L304.3 329.8 L301.6 334.1 L299.0 338.1 L296.7 341.4 L294.6 344.0 L292.3 346.6 L290.0 349.0 L287.7 351.2 L285.4 353.2 L282.9 355.1 L280.1 357.1 L276.9 359.1 L273.1 361.2 L268.7 363.5 L264.1 365.7 L259.6 367.7 L255.6 369.3 L252.1 370.5 L248.5 371.6 L244.5 372.6 L240.4 373.6 L236.1 374.4 L232.0 375.2 L228.8 375.8 L226.4 376.2 L224.2 376.4 L222.1 376.6 L219.8 376.7 L216.7 376.8 L213.2 376.9 L210.4 377.0 L208.9 377.0 L208.0 377.0 L207.2 376.9 L205.6 376.6 L202.8 375.8 L198.9 374.7 L194.4 373.2 L189.7 371.4 L185.0 369.6 L180.5 367.7 L176.1 365.7 L171.7 363.6 L167.5 361.5 L163.6 359.3 L160.1 357.3 L157.1 355.3 L154.4 353.3 L151.7 351.1 L149.1 348.8 L146.4 346.3 L143.7 343.5 L141.2 340.7 L138.8 338.0 L136.5 335.0 L133.9 331.5 L131.3 327.7 L128.6 323.6 L125.9 319.7 L123.6 316.2 L121.6 312.9 L119.7 309.6 L117.7 306.2 L115.7 302.7 L113.6 298.8 L111.3 294.7 L109.2 291.0 L107.5 287.9 L106.2 285.3 L105.2 283.3 L104.4 281.2 L103.5 278.5 L102.5 275.4 L101.7 272.3 L101.1 269.3 L100.6 266.6 L100.3 264.2 L100.2 262.2 L100.2 260.2 L100.3 257.7 L100.6 254.4 L101.1 250.2 L101.7 245.1 L102.4 239.6 L103.2 233.6 L104.2 227.2 L105.3 220.7 L106.4 214.5 L107.5 208.7 L108.6 203.4 L109.7 198.3 L110.8 193.6 L112.0 189.0 L113.3 184.6 L114.6 180.1 L116.1 175.5 L117.7 171.0 L119.2 166.7 L120.9 162.6 L122.5 158.7 L124.2 155.1 L125.9 151.8 L127.7 148.4 L129.6 145.1 L131.6 141.8 L133.8 138.5 L136.0 135.3 L138.2 132.3 L140.3 129.5 L142.4 126.9 L144.5 124.4 L146.7 122.0 L149.0 119.7 L151.3 117.4 L153.8 115.1 L156.3 112.9 L158.9 110.8 L161.4 108.9 L164.0 107.0 L166.6 105.3 L169.2 103.7 L171.8 102.2 L174.5 100.8 L177.3 99.4 L180.3 98.1 L183.5 96.8 L187.1 95.4 L190.9 94.1 L194.6 92.9 L198.2 91.9 L201.6 91.1 L204.7 90.4 L207.5 89.9 L210.1 89.5 L212.9 89.2 L215.9 88.9Z" fill="none" stroke="#606060" stroke-width="9" stroke-dasharray="2.4 17 2 11.6" filter="url(#b1)" opacity="0.45"/>
<ellipse cx="170" cy="128" rx="30" ry="14" transform="rotate(-25 170 128)" fill="#a8a8a8" filter="url(#b4)" opacity="0.95"/>
<ellipse cx="265" cy="128" rx="30" ry="14" transform="rotate(25 265 128)" fill="#a8a8a8" filter="url(#b4)" opacity="0.95"/>
<ellipse cx="150" cy="250" rx="20" ry="26" transform="rotate(0 150 250)" fill="#a8a8a8" filter="url(#b4)" opacity="0.95"/>
<ellipse cx="286" cy="250" rx="20" ry="26" transform="rotate(0 286 250)" fill="#a8a8a8" filter="url(#b4)" opacity="0.95"/>
<ellipse cx="150" cy="300" rx="26" ry="30" transform="rotate(-20 150 300)" fill="#a8a8a8" filter="url(#b4)" opacity="0.95"/>
<ellipse cx="288" cy="300" rx="26" ry="30" transform="rotate(20 288 300)" fill="#a8a8a8" filter="url(#b4)" opacity="0.95"/>
<ellipse cx="180" cy="345" rx="18" ry="24" transform="rotate(-20 180 345)" fill="#a8a8a8" filter="url(#b4)" opacity="0.95"/>
<ellipse cx="256" cy="345" rx="18" ry="24" transform="rotate(20 256 345)" fill="#a8a8a8" filter="url(#b4)" opacity="0.95"/>
<ellipse cx="190" cy="152" rx="20" ry="9" transform="rotate(25 190 152)" fill="#a8a8a8" filter="url(#b4)" opacity="0.95"/>
<ellipse cx="246" cy="152" rx="20" ry="9" transform="rotate(-25 246 152)" fill="#a8a8a8" filter="url(#b4)" opacity="0.95"/>
<ellipse cx="140" cy="232" rx="10" ry="22" transform="rotate(10 140 232)" fill="#a8a8a8" filter="url(#b4)" opacity="0.95"/>
<ellipse cx="296" cy="232" rx="10" ry="22" transform="rotate(-10 296 232)" fill="#a8a8a8" filter="url(#b4)" opacity="0.95"/>
<ellipse cx="127" cy="166" rx="15" ry="13" transform="rotate(0 127 166)" fill="#707070" filter="url(#b3)"/>
<ellipse cx="122" cy="202" rx="14" ry="22" transform="rotate(0 122 202)" fill="#6c6c6c" filter="url(#b3)"/>
<ellipse cx="308" cy="170" rx="15" ry="15" transform="rotate(0 308 170)" fill="#707070" filter="url(#b3)"/>
<ellipse cx="313" cy="206" rx="13" ry="21" transform="rotate(0 313 206)" fill="#6e6e6e" filter="url(#b3)"/>
<ellipse cx="176" cy="205" rx="14" ry="30" transform="rotate(-22 176 205)" fill="#888" filter="url(#b3)"/>
<ellipse cx="259" cy="205" rx="14" ry="30" transform="rotate(22 259 205)" fill="#888" filter="url(#b3)"/>
<ellipse cx="198" cy="228" rx="12" ry="22" transform="rotate(-10 198 228)" fill="#8a8a8a" filter="url(#b3)"/>
<ellipse cx="237" cy="228" rx="12" ry="22" transform="rotate(10 237 228)" fill="#8a8a8a" filter="url(#b3)"/>
<ellipse cx="197" cy="166" rx="7" ry="13" transform="rotate(-35 197 166)" fill="#828282" filter="url(#b3)"/>
<ellipse cx="238" cy="166" rx="7" ry="13" transform="rotate(35 238 166)" fill="#828282" filter="url(#b3)"/>
<ellipse cx="110" cy="246" rx="9" ry="6" transform="rotate(-20 110 246)" fill="#6e6e6e" filter="url(#b15)"/>
<ellipse cx="112" cy="282" rx="12" ry="8" transform="rotate(10 112 282)" fill="#6e6e6e" filter="url(#b15)"/>
<ellipse cx="138" cy="315" rx="11" ry="7" transform="rotate(30 138 315)" fill="#6e6e6e" filter="url(#b15)"/>
<ellipse cx="157" cy="342" rx="11" ry="8" transform="rotate(35 157 342)" fill="#6e6e6e" filter="url(#b15)"/>
<ellipse cx="317" cy="258" rx="19" ry="8" transform="rotate(-10 317 258)" fill="#6e6e6e" filter="url(#b15)"/>
<ellipse cx="325" cy="286" rx="12" ry="8" transform="rotate(10 325 286)" fill="#6e6e6e" filter="url(#b15)"/>
<ellipse cx="310" cy="306" rx="8" ry="7" transform="rotate(0 310 306)" fill="#6e6e6e" filter="url(#b15)"/>
<ellipse cx="294" cy="330" rx="9" ry="6" transform="rotate(-20 294 330)" fill="#6e6e6e" filter="url(#b15)"/>
<ellipse cx="292" cy="354" rx="11" ry="6" transform="rotate(-25 292 354)" fill="#6e6e6e" filter="url(#b15)"/>
<ellipse cx="262" cy="324" rx="5" ry="4" transform="rotate(0 262 324)" fill="#6e6e6e" filter="url(#b15)"/>
<ellipse cx="240" cy="125" rx="7" ry="5" transform="rotate(0 240 125)" fill="#6e6e6e" filter="url(#b15)"/>
<ellipse cx="297" cy="123" rx="8" ry="6" transform="rotate(-20 297 123)" fill="#6e6e6e" filter="url(#b15)"/>
<ellipse cx="128" cy="125" rx="6" ry="5" transform="rotate(0 128 125)" fill="#6e6e6e" filter="url(#b15)"/>
<ellipse cx="195" cy="360" rx="8" ry="10" transform="rotate(0 195 360)" fill="#6e6e6e" filter="url(#b15)"/>
<ellipse cx="244" cy="362" rx="8" ry="10" transform="rotate(0 244 362)" fill="#6e6e6e" filter="url(#b15)"/>
<ellipse cx="170" cy="372" rx="8" ry="6" transform="rotate(30 170 372)" fill="#6e6e6e" filter="url(#b15)"/>
<ellipse cx="270" cy="376" rx="10" ry="6" transform="rotate(-30 270 376)" fill="#6e6e6e" filter="url(#b15)"/>
<ellipse cx="205" cy="385" rx="8" ry="5" transform="rotate(0 205 385)" fill="#6e6e6e" filter="url(#b15)"/>
<ellipse cx="233" cy="385" rx="8" ry="5" transform="rotate(0 233 385)" fill="#6e6e6e" filter="url(#b15)"/>
<ellipse cx="150" cy="90" rx="10" ry="5" transform="rotate(-30 150 90)" fill="#6e6e6e" filter="url(#b15)"/>
<ellipse cx="285" cy="90" rx="10" ry="5" transform="rotate(30 285 90)" fill="#6e6e6e" filter="url(#b15)"/>
<ellipse cx="120" cy="115" rx="6" ry="9" transform="rotate(30 120 115)" fill="#6e6e6e" filter="url(#b15)"/>
<ellipse cx="318" cy="112" rx="6" ry="9" transform="rotate(-30 318 112)" fill="#6e6e6e" filter="url(#b15)"/>
<ellipse cx="100" cy="160" rx="5" ry="10" transform="rotate(10 100 160)" fill="#6e6e6e" filter="url(#b15)"/>
<ellipse cx="336" cy="160" rx="5" ry="10" transform="rotate(-10 336 160)" fill="#6e6e6e" filter="url(#b15)"/>
<ellipse cx="98" cy="215" rx="5" ry="12" transform="rotate(0 98 215)" fill="#6e6e6e" filter="url(#b15)"/>
<ellipse cx="338" cy="215" rx="5" ry="12" transform="rotate(0 338 215)" fill="#6e6e6e" filter="url(#b15)"/>
<ellipse cx="215" cy="105" rx="3" ry="14" transform="rotate(0 215 105)" fill="#6e6e6e" filter="url(#b15)"/>
<ellipse cx="152" cy="112" rx="3" ry="10" transform="rotate(-10 152 112)" fill="#505050" filter="url(#b15)" opacity="0.9"/>
<ellipse cx="116" cy="153" rx="5" ry="6" transform="rotate(0 116 153)" fill="#505050" filter="url(#b15)" opacity="0.9"/>
<ellipse cx="135" cy="148" rx="5" ry="4" transform="rotate(0 135 148)" fill="#505050" filter="url(#b15)" opacity="0.9"/>
<ellipse cx="118" cy="172" rx="4" ry="3" transform="rotate(0 118 172)" fill="#505050" filter="url(#b15)" opacity="0.9"/>
<ellipse cx="132" cy="182" rx="5" ry="3" transform="rotate(0 132 182)" fill="#505050" filter="url(#b15)" opacity="0.9"/>
<ellipse cx="120" cy="195" rx="6" ry="3" transform="rotate(0 120 195)" fill="#505050" filter="url(#b15)" opacity="0.9"/>
<ellipse cx="130" cy="208" rx="5" ry="3" transform="rotate(0 130 208)" fill="#505050" filter="url(#b15)" opacity="0.9"/>
<ellipse cx="115" cy="216" rx="4" ry="4" transform="rotate(0 115 216)" fill="#505050" filter="url(#b15)" opacity="0.9"/>
<ellipse cx="126" cy="224" rx="5" ry="3" transform="rotate(0 126 224)" fill="#505050" filter="url(#b15)" opacity="0.9"/>
<ellipse cx="266" cy="105" rx="4" ry="11" transform="rotate(30 266 105)" fill="#505050" filter="url(#b15)" opacity="0.9"/>
<ellipse cx="300" cy="160" rx="5" ry="3" transform="rotate(0 300 160)" fill="#505050" filter="url(#b15)" opacity="0.9"/>
<ellipse cx="316" cy="172" rx="4" ry="4" transform="rotate(0 316 172)" fill="#505050" filter="url(#b15)" opacity="0.9"/>
<ellipse cx="304" cy="186" rx="6" ry="3" transform="rotate(0 304 186)" fill="#505050" filter="url(#b15)" opacity="0.9"/>
<ellipse cx="318" cy="198" rx="4" ry="4" transform="rotate(0 318 198)" fill="#505050" filter="url(#b15)" opacity="0.9"/>
<ellipse cx="308" cy="214" rx="5" ry="3" transform="rotate(0 308 214)" fill="#505050" filter="url(#b15)" opacity="0.9"/>
<ellipse cx="322" cy="225" rx="4" ry="3" transform="rotate(0 322 225)" fill="#505050" filter="url(#b15)" opacity="0.9"/>
<ellipse cx="290" cy="140" rx="5" ry="3" transform="rotate(30 290 140)" fill="#505050" filter="url(#b15)" opacity="0.9"/>
<path d="M216 131v9M290 108q-4 10 -8 16M330 150q-12 6 -20 14M165 100q6 10 10 16M108 160q12 4 20 10M100 262q10 6 14 16M104 292q12 0 18 8M120 324q10 -4 18 4M142 348q8 -8 18 -4M160 322q6 10 4 20M334 268q-10 6 -14 16M330 296q-12 0 -18 8M316 322q-10 -4 -18 4M296 343q-8 -8 -18 -4M275 320q-6 10 -4 20M182 372q8 6 14 14M252 372q-8 6 -14 14" fill="none" stroke="#5a5a5a" stroke-width="3.6" stroke-linecap="round" filter="url(#b15)" opacity="0.8"/>
<ellipse cx="215.5" cy="138.5" rx="7" ry="6" fill="#4a4a4a" filter="url(#b15)"/>
<path d="M184 150Q204 164 211 178T214.5 192M252.5 150Q232 164 225.5 178T223 192" fill="none" stroke="#343434" stroke-width="4.2" stroke-linecap="round" filter="url(#b1)"/>
<path d="M209 186l-4 12M228 186l4 12" fill="none" stroke="#484848" stroke-width="3.5" stroke-linecap="round" filter="url(#b1)"/>
<path d="M218 203V250" stroke="#363636" stroke-width="6" filter="url(#b1)"/>
<path d="M218 250q-14 2 -17 14q-2 10 4 20q-4 12 2 22q4 12 10 22q8 -10 11 -22q6 -10 2 -22q6 -10 4 -20q-3 -12 -16 -14z" fill="#444" filter="url(#b15)"/>
<path d="M207 292h22M208 300h20M209 307h18" stroke="#8a8a8a" stroke-width="2.2" filter="url(#b05)"/>
<circle cx="218" cy="258" r="3" fill="#777" filter="url(#b1)"/>
<path d="M155 266H200M236 266H280" stroke="#555" stroke-width="1.8" filter="url(#b05)" opacity="0.75"/>
<path d="M183 272q-4 10 2 22" stroke="#4a4a4a" stroke-width="5" fill="none" stroke-linecap="round" filter="url(#b15)"/>
<path d="M272 272q8 8 5 26" stroke="#363636" stroke-width="8" fill="none" stroke-linecap="round" filter="url(#b15)"/>
<path d="M158 274q-4 10 0 21" stroke="#3c3c3c" stroke-width="6" stroke-linecap="round" fill="none" filter="url(#b15)"/>
<path d="M198 268q-8 14 -6 30M238 268q8 14 6 30" stroke="#6a6a6a" stroke-width="4" fill="none" filter="url(#b15)"/>
<path d="M218 328Q219 360 222 396" stroke="#505050" stroke-width="3.2" fill="none" filter="url(#b1)"/>
<path d="M204 332q6 10 4 22M232 332q-6 10 -4 22" stroke="#666" stroke-width="4" fill="none" filter="url(#b15)"/>
</g></g>
<path d="M157.0 89.2 L160.5 95.0 L180.3 95.0 L188.5 98.5 L190.8 106.7 L194.3 118.3 L206.0 123.0 L215.3 128.8 L220.0 127.7 L224.7 118.3 L227.0 106.7 L225.8 98.5 L234.0 92.7 L248.0 90.3 L253.1 83.3 L248.0 76.3 L238.7 75.2 L234.0 70.5 L227.0 71.2 L224.7 76.3 L192.0 76.8 L175.7 78.2 L166.3 83.3Z" fill="#18a882"/>
<ellipse cx="222" cy="82" rx="9" ry="5" fill="#0f7f63" filter="url(#b3)" opacity="0.8"/>
<path d="M115.0 343.2 L123.2 342.7 L136.0 351.3 L150.0 361.8 L159.3 367.7 L173.3 371.2 L180.3 375.8 L182.7 384.0 L174.5 388.7 L161.7 385.9 L145.3 379.3 L136.0 367.7 L126.7 353.7Z" fill="#18a882"/>
<path d="M146.5 152.2 L152.3 149.8 L158.2 153.3 L161.7 156.8 L164.5 161.5 L160.5 167.3 L154.7 167.8 L150.0 163.8 L146.5 160.3Z" fill="#f2623c"/><path d="M264.3 151.0 L276.0 149.8 L283.0 154.5 L290.0 162.7 L287.7 169.7 L278.3 175.5 L271.3 172.0 L266.7 165.0 L264.3 158.0Z" fill="#f2623c"/>
<ellipse cx="276" cy="161" rx="4" ry="5" fill="#e2401c" filter="url(#b1)"/>
</g>
<defs>
<clipPath id="cpSout"><path d="M389.0 366.5 L388.5 365.3 L387.8 363.6 L387.1 361.6 L386.3 359.4 L385.8 357.0 L385.6 354.6 L385.8 352.1 L386.4 349.5 L387.2 346.7 L388.1 343.9 L388.9 340.9 L389.5 338.0 L390.0 335.1 L390.5 332.3 L391.0 329.3 L391.4 326.3 L391.6 322.9 L391.5 319.2 L391.1 315.1 L390.4 310.7 L389.6 306.0 L388.7 301.1 L387.8 296.0 L387.2 290.8 L386.7 285.2 L386.3 279.3 L386.0 273.2 L385.7 267.1 L385.6 261.1 L385.6 255.4 L385.8 249.9 L386.1 244.5 L386.6 239.3 L387.2 234.3 L387.8 229.6 L388.5 225.3 L389.2 221.6 L390.0 218.4 L390.9 215.5 L391.8 212.8 L392.8 210.0 L394.0 207.0 L395.3 203.8 L396.7 200.6 L398.3 197.3 L399.9 194.0 L401.6 190.5 L403.3 187.0 L405.1 183.3 L407.0 179.5 L408.9 175.6 L410.9 171.7 L413.0 167.8 L415.1 164.0 L417.3 160.2 L419.6 156.5 L421.9 152.8 L424.3 149.1 L426.8 145.5 L429.3 142.0 L431.8 138.6 L434.4 135.3 L437.0 132.0 L439.7 128.8 L442.6 125.6 L445.8 122.5 L449.3 119.4 L453.1 116.2 L457.2 113.1 L461.3 110.1 L465.4 107.2 L469.4 104.5 L473.3 102.0 L477.3 99.5 L481.2 97.2 L485.1 95.1 L489.1 93.1 L493.0 91.2 L496.9 89.5 L500.9 87.9 L504.9 86.5 L508.8 85.2 L512.8 84.0 L516.7 83.0 L520.6 82.1 L524.5 81.3 L528.4 80.6 L532.4 80.1 L536.3 79.7 L540.3 79.3 L544.3 79.0 L548.2 78.8 L552.2 78.6 L556.3 78.6 L560.5 78.8 L565.0 79.3 L569.7 80.0 L574.5 81.0 L579.5 82.1 L584.7 83.4 L590.0 84.9 L595.4 86.5 L601.1 88.3 L607.1 90.3 L613.2 92.4 L619.3 94.7 L625.2 97.1 L630.8 99.5 L636.0 102.0 L641.0 104.6 L645.7 107.4 L650.3 110.2 L654.8 113.1 L659.2 116.0 L663.4 119.0 L667.4 122.0 L671.3 125.1 L675.1 128.3 L678.9 131.7 L682.8 135.2 L686.8 138.9 L690.8 142.8 L694.9 146.8 L698.9 150.9 L702.7 155.0 L706.4 159.2 L709.9 163.5 L713.3 167.9 L716.6 172.3 L719.7 176.7 L722.6 181.0 L725.3 185.1 L727.7 188.9 L730.0 192.5 L732.0 195.9 L733.8 199.3 L735.5 202.8 L737.1 206.4 L738.5 210.1 L739.8 213.9 L740.9 217.7 L741.8 221.6 L742.7 225.7 L743.5 230.0 L744.3 234.6 L745.0 239.5 L745.7 244.6 L746.2 249.8 L746.5 254.9 L746.5 260.0 L746.2 265.0 L745.6 270.0 L744.8 275.1 L743.9 280.1 L742.9 285.0 L742.0 290.0 L741.0 295.0 L739.8 300.2 L738.5 305.3 L737.4 310.3 L736.5 314.9 L736.0 319.2 L736.0 323.0 L736.4 326.4 L737.0 329.5 L737.8 332.5 L738.7 335.3 L739.5 338.0 L740.4 340.7 L741.5 343.2 L742.7 345.5 L743.8 347.8 L744.8 350.0 L745.4 352.2 L745.6 354.4 L745.6 356.7 L745.3 359.0 L745.0 361.0 L744.7 362.7 L744.5 364.0 L738.0 368.8 L396.0 368.8Z"/></clipPath>
</defs>
<g id="sagittal" clip-path="url(#cpSout)">
<path d="M389.0 366.5 L388.5 365.3 L387.8 363.6 L387.1 361.6 L386.3 359.4 L385.8 357.0 L385.6 354.6 L385.8 352.1 L386.4 349.5 L387.2 346.7 L388.1 343.9 L388.9 340.9 L389.5 338.0 L390.0 335.1 L390.5 332.3 L391.0 329.3 L391.4 326.3 L391.6 322.9 L391.5 319.2 L391.1 315.1 L390.4 310.7 L389.6 306.0 L388.7 301.1 L387.8 296.0 L387.2 290.8 L386.7 285.2 L386.3 279.3 L386.0 273.2 L385.7 267.1 L385.6 261.1 L385.6 255.4 L385.8 249.9 L386.1 244.5 L386.6 239.3 L387.2 234.3 L387.8 229.6 L388.5 225.3 L389.2 221.6 L390.0 218.4 L390.9 215.5 L391.8 212.8 L392.8 210.0 L394.0 207.0 L395.3 203.8 L396.7 200.6 L398.3 197.3 L399.9 194.0 L401.6 190.5 L403.3 187.0 L405.1 183.3 L407.0 179.5 L408.9 175.6 L410.9 171.7 L413.0 167.8 L415.1 164.0 L417.3 160.2 L419.6 156.5 L421.9 152.8 L424.3 149.1 L426.8 145.5 L429.3 142.0 L431.8 138.6 L434.4 135.3 L437.0 132.0 L439.7 128.8 L442.6 125.6 L445.8 122.5 L449.3 119.4 L453.1 116.2 L457.2 113.1 L461.3 110.1 L465.4 107.2 L469.4 104.5 L473.3 102.0 L477.3 99.5 L481.2 97.2 L485.1 95.1 L489.1 93.1 L493.0 91.2 L496.9 89.5 L500.9 87.9 L504.9 86.5 L508.8 85.2 L512.8 84.0 L516.7 83.0 L520.6 82.1 L524.5 81.3 L528.4 80.6 L532.4 80.1 L536.3 79.7 L540.3 79.3 L544.3 79.0 L548.2 78.8 L552.2 78.6 L556.3 78.6 L560.5 78.8 L565.0 79.3 L569.7 80.0 L574.5 81.0 L579.5 82.1 L584.7 83.4 L590.0 84.9 L595.4 86.5 L601.1 88.3 L607.1 90.3 L613.2 92.4 L619.3 94.7 L625.2 97.1 L630.8 99.5 L636.0 102.0 L641.0 104.6 L645.7 107.4 L650.3 110.2 L654.8 113.1 L659.2 116.0 L663.4 119.0 L667.4 122.0 L671.3 125.1 L675.1 128.3 L678.9 131.7 L682.8 135.2 L686.8 138.9 L690.8 142.8 L694.9 146.8 L698.9 150.9 L702.7 155.0 L706.4 159.2 L709.9 163.5 L713.3 167.9 L716.6 172.3 L719.7 176.7 L722.6 181.0 L725.3 185.1 L727.7 188.9 L730.0 192.5 L732.0 195.9 L733.8 199.3 L735.5 202.8 L737.1 206.4 L738.5 210.1 L739.8 213.9 L740.9 217.7 L741.8 221.6 L742.7 225.7 L743.5 230.0 L744.3 234.6 L745.0 239.5 L745.7 244.6 L746.2 249.8 L746.5 254.9 L746.5 260.0 L746.2 265.0 L745.6 270.0 L744.8 275.1 L743.9 280.1 L742.9 285.0 L742.0 290.0 L741.0 295.0 L739.8 300.2 L738.5 305.3 L737.4 310.3 L736.5 314.9 L736.0 319.2 L736.0 323.0 L736.4 326.4 L737.0 329.5 L737.8 332.5 L738.7 335.3 L739.5 338.0 L740.4 340.7 L741.5 343.2 L742.7 345.5 L743.8 347.8 L744.8 350.0 L745.4 352.2 L745.6 354.4 L745.6 356.7 L745.3 359.0 L745.0 361.0 L744.7 362.7 L744.5 364.0 L738.0 368.8 L396.0 368.8Z" fill="#626262"/>
<path d="M389.0 366.5 L388.5 365.3 L387.8 363.6 L387.1 361.6 L386.3 359.4 L385.8 357.0 L385.6 354.6 L385.8 352.1 L386.4 349.5 L387.2 346.7 L388.1 343.9 L388.9 340.9 L389.5 338.0 L390.0 335.1 L390.5 332.3 L391.0 329.3 L391.4 326.3 L391.6 322.9 L391.5 319.2 L391.1 315.1 L390.4 310.7 L389.6 306.0 L388.7 301.1 L387.8 296.0 L387.2 290.8 L386.7 285.2 L386.3 279.3 L386.0 273.2 L385.7 267.1 L385.6 261.1 L385.6 255.4 L385.8 249.9 L386.1 244.5 L386.6 239.3 L387.2 234.3 L387.8 229.6 L388.5 225.3 L389.2 221.6 L390.0 218.4 L390.9 215.5 L391.8 212.8 L392.8 210.0 L394.0 207.0 L395.3 203.8 L396.7 200.6 L398.3 197.3 L399.9 194.0 L401.6 190.5 L403.3 187.0 L405.1 183.3 L407.0 179.5 L408.9 175.6 L410.9 171.7 L413.0 167.8 L415.1 164.0 L417.3 160.2 L419.6 156.5 L421.9 152.8 L424.3 149.1 L426.8 145.5 L429.3 142.0 L431.8 138.6 L434.4 135.3 L437.0 132.0 L439.7 128.8 L442.6 125.6 L445.8 122.5 L449.3 119.4 L453.1 116.2 L457.2 113.1 L461.3 110.1 L465.4 107.2 L469.4 104.5 L473.3 102.0 L477.3 99.5 L481.2 97.2 L485.1 95.1 L489.1 93.1 L493.0 91.2 L496.9 89.5 L500.9 87.9 L504.9 86.5 L508.8 85.2 L512.8 84.0 L516.7 83.0 L520.6 82.1 L524.5 81.3 L528.4 80.6 L532.4 80.1 L536.3 79.7 L540.3 79.3 L544.3 79.0 L548.2 78.8 L552.2 78.6 L556.3 78.6 L560.5 78.8 L565.0 79.3 L569.7 80.0 L574.5 81.0 L579.5 82.1 L584.7 83.4 L590.0 84.9 L595.4 86.5 L601.1 88.3 L607.1 90.3 L613.2 92.4 L619.3 94.7 L625.2 97.1 L630.8 99.5 L636.0 102.0 L641.0 104.6 L645.7 107.4 L650.3 110.2 L654.8 113.1 L659.2 116.0 L663.4 119.0 L667.4 122.0 L671.3 125.1 L675.1 128.3 L678.9 131.7 L682.8 135.2 L686.8 138.9 L690.8 142.8 L694.9 146.8 L698.9 150.9 L702.7 155.0 L706.4 159.2 L709.9 163.5 L713.3 167.9 L716.6 172.3 L719.7 176.7 L722.6 181.0 L725.3 185.1 L727.7 188.9 L730.0 192.5 L732.0 195.9 L733.8 199.3 L735.5 202.8 L737.1 206.4 L738.5 210.1 L739.8 213.9 L740.9 217.7 L741.8 221.6 L742.7 225.7 L743.5 230.0 L744.3 234.6 L745.0 239.5 L745.7 244.6 L746.2 249.8 L746.5 254.9 L746.5 260.0 L746.2 265.0 L745.6 270.0 L744.8 275.1 L743.9 280.1 L742.9 285.0 L742.0 290.0 L741.0 295.0 L739.8 300.2 L738.5 305.3 L737.4 310.3 L736.5 314.9 L736.0 319.2 L736.0 323.0 L736.4 326.4 L737.0 329.5 L737.8 332.5 L738.7 335.3 L739.5 338.0 L740.4 340.7 L741.5 343.2 L742.7 345.5 L743.8 347.8 L744.8 350.0 L745.4 352.2 L745.6 354.4 L745.6 356.7 L745.3 359.0 L745.0 361.0 L744.7 362.7 L744.5 364.0" fill="none" stroke="#303030" stroke-width="4" filter="url(#b1)"/>
<path d="M391.2 266.9 L391.1 261.0 L391.1 255.5 L391.3 250.2 L391.6 245.0 L392.1 239.8 L392.6 234.9 L393.3 230.4 L393.9 226.3 L394.6 222.8 L395.3 219.8 L396.1 217.2 L397.0 214.7 L398.0 212.0 L399.1 209.0 L400.4 205.9 L401.7 202.8 L403.2 199.7 L404.8 196.4 L406.5 193.0 L408.2 189.4 L410.0 185.7 L411.9 182.0 L413.8 178.1 L415.8 174.2 L417.8 170.4 L419.9 166.7 L422.0 163.1 L424.3 159.4 L426.5 155.7 L428.9 152.2 L431.3 148.7 L433.7 145.2 L436.2 141.9 L438.7 138.6 L441.2 135.5 L443.8 132.4 L446.6 129.5 L449.6 126.5 L452.9 123.5 L456.6 120.5 L460.5 117.5 L464.5 114.6 L468.5 111.7 L472.4 109.1 L476.3 106.6 L480.1 104.2 L483.9 102.0 L487.7 99.9 L491.5 98.0 L495.3 96.2 L499.1 94.6 L502.8 93.1 L506.6 91.7 L510.4 90.5 L514.2 89.3 L518.0 88.3 L521.8 87.5 L525.5 86.7 L529.3 86.1 L533.0 85.5 L536.9 85.1 L540.7 84.8 L544.7 84.5 L548.5 84.3 L552.3 84.1 L556.2 84.1 L560.1 84.3 L564.3 84.8 L568.7 85.4 L573.4 86.3 L578.2 87.4 L583.3 88.7 L588.5 90.2 L593.8 91.8 L599.4 93.5 L605.3 95.5 L611.4 97.6 L617.4 99.8 L623.1 102.1 L628.5 104.5 L633.5 106.9 L638.3 109.5 L642.9 112.1 L647.4 114.8 L651.8 117.6 L656.1 120.5 L660.2 123.4 L664.0 126.4 L667.8 129.4 L671.5 132.5 L675.3 135.8 L679.1 139.3 L683.0 142.9 L687.0 146.7 L691.0 150.7 L694.9 154.7 L698.7 158.7 L702.2 162.8 L705.6 166.9 L708.9 171.2 L712.1 175.5 L715.2 179.9 L718.0 184.1 L720.7 188.1 L723.1 191.8 L725.3 195.3 L727.2 198.6 L728.9 201.8 L730.5 205.1 L732.0 208.5 L733.3 212.0 L734.5 215.5 L735.5 219.1 L736.5 222.8 L737.3 226.7 L738.1 231.0 L738.9 235.5 L739.6 240.3 L740.2 245.2 L740.7 250.2 L741.0 255.1 L741.0 259.9 L740.7 264.5 L740.2 269.3 L739.4 274.1 L738.5 279.0 L737.5 284.0 L736.6 288.9 L735.6 293.9 L734.4 298.9 L733.2 304.0 L732.0 309.1 L731.0 314.1 L730.5 318.9 L730.5 323.3 L730.9 327.2 L731.7 330.8 L732.5 334.0 L733.4 336.9" fill="none" stroke="#b4b4b4" stroke-width="2.6" filter="url(#b1)"/>
<path d="M521.8 87.5 L525.5 86.7 L529.3 86.1 L533.0 85.5 L536.9 85.1 L540.7 84.8 L544.7 84.5 L548.5 84.3 L552.3 84.1 L556.2 84.1 L560.1 84.3 L564.3 84.8 L568.7 85.4 L573.4 86.3 L578.2 87.4 L583.3 88.7 L588.5 90.2 L593.8 91.8 L599.4 93.5 L605.3 95.5 L611.4 97.6 L617.4 99.8 L623.1 102.1 L628.5 104.5 L633.5 106.9 L638.3 109.5 L642.9 112.1 L647.4 114.8 L651.8 117.6 L656.1 120.5 L660.2 123.4 L664.0 126.4 L667.8 129.4 L671.5 132.5 L675.3 135.8 L679.1 139.3 L683.0 142.9 L687.0 146.7 L691.0 150.7 L694.9 154.7 L698.7 158.7 L702.2 162.8 L705.6 166.9 L708.9 171.2 L712.1 175.5 L715.2 179.9 L718.0 184.1 L720.7 188.1 L723.1 191.8 L725.3 195.3 L727.2 198.6 L728.9 201.8 L730.5 205.1 L732.0 208.5 L733.3 212.0 L734.5 215.5 L735.5 219.1 L736.5 222.8 L737.3 226.7" fill="none" stroke="#ececec" stroke-width="4.2" stroke-linecap="round" filter="url(#b15)"/>
<path d="M394.9 349.0 L395.8 346.1 L396.6 342.8 L397.4 339.5 L397.9 336.5 L398.4 333.6 L398.9 330.4 L399.3 326.9 L399.6 323.1 L399.5 318.8 L399.1 314.1 L398.3 309.4 L397.4 304.6 L396.5 299.8 L395.8 294.9 L395.2 290.0 L394.7 284.6 L394.3 278.8 L393.9 272.8 L393.7 266.8 L393.6 261.0 L393.6 255.6 L393.8 250.3 L394.1 245.1 L394.6 240.1 L395.1 235.3 L395.7 230.7 L396.4 226.7 L397.0 223.3 L397.7 220.5 L398.5 218.0 L399.3 215.5 L400.3 212.9 L401.4 210.0 L402.7 206.9 L404.0 203.9 L405.5 200.7 L407.1 197.5 L408.7 194.1 L410.5 190.5 L412.3 186.8 L414.1 183.1 L416.0 179.2 L418.0 175.4 L420.0 171.6" fill="none" stroke="#8c8c8c" stroke-width="9" stroke-linecap="round" filter="url(#b15)"/>
<path d="M396.1 217.2 L397.0 214.7 L398.0 212.0 L399.1 209.0 L400.4 205.9 L401.7 202.8 L403.2 199.7 L404.8 196.4 L406.5 193.0 L408.2 189.4 L410.0 185.7 L411.9 182.0 L413.8 178.1 L415.8 174.2 L417.8 170.4 L419.9 166.7 L422.0 163.1 L424.3 159.4 L426.5 155.7 L428.9 152.2 L431.3 148.7 L433.7 145.2 L436.2 141.9 L438.7 138.6 L441.2 135.5 L443.8 132.4 L446.6 129.5 L449.6 126.5 L452.9 123.5 L456.6 120.5 L460.5 117.5 L464.5 114.6 L468.5 111.7" fill="none" stroke="#d0d0d0" stroke-width="2.6" filter="url(#b1)"/>
<path d="M395.2 353.4 L402.0 359.9 L401.3 358.1 L400.7 356.7 L400.3 355.5 L400.1 354.8 L400.1 354.8 L400.2 354.5 L400.5 353.0 L401.1 350.8 L402.0 347.9 L403.0 344.4 L403.7 340.8 L404.3 337.7 L404.8 334.7 L405.4 331.3 L405.8 327.5 L406.1 323.2 L406.0 318.4 L405.5 313.3 L404.7 308.3 L403.8 303.4 L403.0 298.6 L402.2 294.0 L401.6 289.3 L401.2 284.1 L400.8 278.4 L400.4 272.5 L400.2 266.6 L400.1 261.0 L400.1 255.7 L400.3 250.7 L400.6 245.6 L401.0 240.7 L401.6 236.1 L402.2 231.7 L402.8 227.8 L403.4 224.7 L404.0 222.1 L404.7 219.9 L405.4 217.7 L406.4 215.2 L407.5 212.4 L408.7 209.5 L409.9 206.6 L411.4 203.5 L412.9 200.3 L414.6 196.9 L416.3 193.4 L418.1 189.7 L420.0 185.9 L421.8 182.1 L423.8 178.4 L425.7 174.8 L427.7 171.2 L429.8 167.7 L431.9 164.1 L431.2 158.7 L433.4 155.2 L435.8 151.8 L438.2 148.5 L440.6 145.2 L443.0 142.0 L445.5 139.0 L447.9 136.1 L450.5 133.3 L453.3 130.5 L457.5 128.9 L460.9 126.0 L464.7 123.1 L468.6 120.3 L472.5 117.5 L476.3 114.9 L480.0 112.5 L483.7 110.2 L487.3 108.1 L491.0 106.1 L494.6 104.3 L498.2 102.6 L501.7 101.0 L505.3 99.6 L508.9 98.3 L512.5 97.1 L516.1 96.1 L519.7 95.1 L523.3 94.3 L526.8 93.6 L530.3 93.0 L533.9 92.5 L537.5 92.1 L541.3 91.8 L545.1 91.5 L548.8 91.2 L552.4 91.1 L556.0 91.1 L559.6 91.3 L563.4 91.7 L567.5 92.3 L572.0 93.2 L576.6 94.2 L581.5 95.5 L586.5 96.9 L591.7 98.5 L597.3 100.2 L603.1 102.1 L609.0 104.2 L614.8 106.4 L620.4 108.6 L625.6 110.9 L630.4 113.2 L634.9 115.6 L639.4 118.1 L643.7 120.8 L648.0 123.5 L652.1 126.3 L656.0 129.1 L660.7 130.7 L664.3 133.6 L667.9 136.7 L671.6 139.9 L675.4 143.3 L679.2 146.9 L683.2 150.7 L687.1 154.5 L690.9 158.5 L694.6 162.4 L698.0 166.3 L701.3 170.3 L704.5 174.5 L707.7 178.7 L710.7 183.0 L713.5 187.1 L716.1 191.1 L718.4 194.8 L720.5 198.2 L722.4 201.3 L724.1 204.3 L725.5 207.4 L726.9 210.5 L728.2 213.8 L729.3 217.1 L730.2 220.5 L731.1 224.0 L731.9 227.8 L732.7 231.9 L733.4 236.4 L734.1 241.1 L734.8 245.8 L735.2 250.6 L735.5 255.3 L735.5 259.7 L735.2 264.0 L734.7 268.5 L734.0 273.2 L733.1 278.0 L732.1 283.0 L731.2 287.9 L730.2 292.7 L729.1 297.6 L727.8 302.7 L726.6 308.0 L725.6 313.3 L725.0 318.6 L725.0 323.6 L725.5 328.1 L726.3 332.1 L727.2 335.5 L728.1 338.5 L729.0 341.4 L730.2 344.7 L731.6 347.9 L732.9 350.4 L733.8 352.4 L734.4 353.7 L734.6 354.3 L734.6 354.9 L734.6 356.0 L734.4 357.5 L734.1 359.2 L733.8 361.0 L737.1 355.9 L737.8 357.8 L396.1 354.3Z" fill="#171717" filter="url(#b1)"/>
<path d="M467.2 133.8 L470.7 131.1 L474.4 128.4 L478.1 125.7 L481.8 123.3 L485.4 121.0 L488.8 118.8 L492.3 116.8 L495.7 115.0 L499.0 113.2 L502.3 111.7 L505.6 110.3 L508.8 109.0 L512.1 107.8 L515.5 106.7 L518.8 105.7 L522.2 104.8 L525.4 104.1 L528.6 103.4 L531.9 102.9 L535.2 102.4 L538.5 102.0 L542.1 101.7 L545.8 101.5 L549.3 101.2 L552.6 101.1 L555.7 101.1 L558.8 101.3 L562.1 101.6 L565.8 102.2 L569.9 103.0 L574.3 104.0 L578.9 105.1 L583.7 106.5 L588.8 108.0 L594.2 109.7 L599.8 111.6 L605.6 113.6 L611.2 115.7 L616.5 117.8 L621.4 119.9 L625.8 122.1 L630.1 124.4 L634.3 126.7 L638.4 129.2 L642.5 131.8 L646.4 134.5 L650.1 137.1 L653.6 139.8 L657.0 142.5 L660.4 145.4 L663.9 148.5 L667.6 151.8 L671.4 155.3 L675.2 158.9 L678.9 162.6 L682.6 166.4 L686.0 170.1 L689.3 173.8 L692.3 177.5 L695.3 181.4 L698.3 185.5 L701.2 189.5 L703.9 193.5 L706.5 197.4 L708.7 200.9 L710.7 204.1 L712.4 207.0 L713.8 209.6 L715.1 212.2 L716.3 214.9 L717.3 217.7 L718.3 220.5 L719.1 223.5 L719.9 226.6 L720.6 230.1" fill="none" stroke="#4a4a4a" stroke-width="8" stroke-linecap="round" filter="url(#b15)"/>
<path d="M419.0 272.0 L417.1 267.2 L415.1 262.2 L413.1 257.0 L411.4 251.6 L410.0 246.0 L409.0 240.0 L408.3 233.7 L407.8 227.2 L407.7 220.9 L408.0 215.0 L408.7 209.6 L409.9 204.5 L411.3 199.6 L413.1 194.8 L415.0 190.0 L417.2 185.1 L419.6 180.1 L422.2 175.3 L425.0 170.5 L428.0 166.0 L431.1 161.7 L434.3 157.5 L437.7 153.5 L441.3 149.7 L445.0 146.0 L448.9 142.5 L452.9 139.1 L457.1 135.9 L461.5 132.9 L466.0 130.0 L470.7 127.3 L475.6 124.7 L480.7 122.3 L485.8 120.1 L491.0 118.0 L496.3 116.1 L501.7 114.3 L507.1 112.7 L512.6 111.3 L518.0 110.0 L523.4 108.9 L528.8 107.9 L534.2 107.0 L539.6 106.4 L545.0 106.0 L550.4 105.8 L555.8 105.8 L561.1 106.1 L566.5 106.5 L572.0 107.0 L577.5 107.7 L583.1 108.6 L588.7 109.7 L594.3 110.8 L600.0 112.0 L605.8 113.2 L611.6 114.4 L617.4 115.7 L623.2 117.2 L629.0 119.0 L634.7 121.0 L640.5 123.2 L646.1 125.6 L651.7 128.2 L657.0 131.0 L662.1 134.0 L667.1 137.2 L671.9 140.7 L676.5 144.3 L681.0 148.0 L685.3 151.9 L689.5 155.9 L693.6 160.1 L697.4 164.5 L701.0 169.0 L704.4 173.7 L707.7 178.6 L710.8 183.6 L713.6 188.7 L716.0 194.0 L718.0 199.4 L719.7 205.1 L721.0 210.8 L722.1 216.5 L723.0 222.0 L723.7 227.4 L724.2 232.7 L724.4 238.0 L724.3 243.1 L724.0 248.0 L723.3 252.7 L722.4 257.3 L721.2 261.7 L719.7 265.9 L718.0 270.0 L716.0 274.0 L713.8 277.8 L711.4 281.4 L708.8 284.8 L706.0 288.0 L703.2 290.9 L700.2 293.7 L697.0 296.1 L693.6 298.3 L690.0 300.0 L686.1 301.3 L681.9 302.1 L677.5 302.7 L672.9 302.9 L668.0 303.0 L662.8 302.8 L657.2 302.3 L651.5 301.6 L645.7 300.8 L640.0 300.0 L634.3 299.3 L628.5 298.6 L622.8 297.8 L617.2 296.9 L612.0 296.0 L607.1 294.7 L602.4 293.0 L598.0 291.3 L593.9 290.2 L590.0 290.0 L586.4 290.7 L583.1 291.9 L580.1 293.8 L577.4 296.5 L575.0 300.0 L573.1 304.5 L571.6 310.0 L570.3 316.2 L569.2 322.9 L568.0 330.0 L567.4 338.3 L567.5 348.0 L567.3 357.6 L565.8 366.1 L562.0 372.0 L554.4 375.0 L543.7 376.0 L532.0 375.5 L521.7 374.0 L515.0 372.0 L512.9 369.0 L514.0 364.7 L516.6 359.8 L519.1 355.3 L520.0 352.0 L519.2 350.2 L517.8 349.4 L515.7 349.0 L513.1 348.7 L510.0 348.0 L506.1 346.9 L501.4 345.7 L496.3 344.3 L491.0 342.8 L486.0 341.0 L481.1 339.0 L476.2 336.8 L471.3 334.3 L466.5 331.7 L462.0 329.0 L457.6 326.1 L453.4 323.1 L449.4 319.9 L445.6 316.5 L442.0 313.0 L438.7 309.3 L435.7 305.3 L433.0 301.3 L430.4 297.1 L428.0 293.0 L425.9 288.9 L424.0 284.9 L422.4 280.8 L420.7 276.5Z" fill="#616161" filter="url(#b15)"/>
<path d="M440.1 205.1 L441.9 201.3 L443.7 197.7 L445.5 194.1 L447.3 190.6 L449.0 187.4 L450.7 184.4 L452.5 181.2 L454.5 178.0 L456.4 174.9 L458.4 171.9 L460.3 169.1 L462.4 166.2 L464.6 163.2 L466.7 160.4 L468.6 158.1 L470.4 156.0 L472.0 154.2 L473.8 152.4 L476.0 150.5 L478.7 148.3 L481.8 145.9 L485.2 143.4 L488.6 141.0 L492.0 138.7 L495.2 136.6 L498.4 134.7 L501.4 132.9 L504.3 131.3 L507.2 129.8 L510.0 128.5 L512.7 127.4 L515.4 126.3 L518.1 125.3 L521.0 124.4 L523.8 123.5 L526.6 122.8 L529.3 122.1 L532.0 121.6 L534.7 121.2 L537.5 120.8 L540.4 120.4 L543.6 120.2 L547.1 119.9 L550.2 119.7 L552.9 119.6 L555.2 119.6 L557.4 119.7 L559.8 120.0 L562.7 120.4 L566.1 121.1 L569.9 121.9 L574.1 123.0 L578.6 124.3 L583.4 125.7 L588.5 127.3 L593.9 129.1 L599.3 131.0 L604.6 132.9 L609.4 134.9 L613.6 136.7 L617.5 138.6 L621.2 140.6 L624.9 142.7 L628.6 144.9 L632.3 147.3 L635.9 149.7 L639.2 152.1 L642.2 154.4 L645.3 156.8 L648.4 159.4 L651.6 162.3 L655.1 165.4 L658.7 168.7 L662.3 172.2 L665.8 175.7 L669.2 179.1 L672.3 182.5 L675.2 185.8 L677.9 189.0 L680.6 192.6 L683.3 196.3 L686.0 200.1 L688.5 203.8 L691.0 207.5 L693.1 210.8 L694.9 213.7 L696.3 216.1 L697.4 218.1 L698.3 219.9 L699.1 221.8 L699.9 223.9 L700.6 226.0 L701.2 228.2 L701.9 230.8 L702.5 233.7" fill="none" stroke="#7e7e7e" stroke-width="25" stroke-linecap="round" filter="url(#b2)"/>
<path d="M484.2 166.0 L485.4 164.9 L487.0 163.4 L489.3 161.6 L492.0 159.5 L495.1 157.2 L498.3 155.0 L501.4 152.9 L504.3 151.0 L507.1 149.3 L509.8 147.7 L512.3 146.3 L514.7 145.1 L517.0 144.0 L519.2 143.1 L521.4 142.2 L523.7 141.4 L526.0 140.6 L528.4 139.9 L530.8 139.3 L533.0 138.8 L535.1 138.3 L537.3 138.0 L539.6 137.6 L542.1 137.4 L545.0 137.1 L548.2 136.9 L551.0 136.7 L553.2 136.6 L554.8 136.6 L556.1 136.7 L557.6 136.8 L559.8 137.2 L562.6 137.7 L565.9 138.5 L569.7 139.4 L573.9 140.6 L578.4 141.9 L583.3 143.5 L588.4 145.2 L593.5 147.0 L598.4 148.8 L602.8 150.6 L606.5 152.2 L609.8 153.8 L613.1 155.5 L616.3 157.3 L619.6 159.3 L622.9 161.5 L626.2 163.7 L629.1 165.8 L631.8 167.8 L634.5 169.9 L637.3 172.3 L640.3 175.0 L643.6 178.0 L647.0 181.1 L650.4 184.4 L653.7 187.6 L656.8 190.8 L659.7 193.9 L662.2 196.8 L664.6 199.6 L667.0 202.8 L669.5 206.2" fill="none" stroke="#727272" stroke-width="14" stroke-linecap="round" filter="url(#b3)"/>
<ellipse cx="452" cy="225" rx="22" ry="30" fill="#747474" filter="url(#b4)"/>
<ellipse cx="462" cy="248" rx="16" ry="10" transform="rotate(-35 462 248)" fill="#8a8a8a" filter="url(#b2)"/>
<ellipse cx="672" cy="225" rx="18" ry="34" transform="rotate(-15 672 225)" fill="#747474" filter="url(#b4)"/>
<ellipse cx="655" cy="278" rx="30" ry="12" transform="rotate(8 655 278)" fill="#727272" filter="url(#b3)"/>
<path d="M489 134q7 8 4 17M472 146q8 4 10 14M510 126q-2 12 6 24M530 122q6 10 -2 24q4 6 2 10M556 123q-6 12 4 24M576 126q2 12 8 22q-2 8 2 12M598 132q-4 10 2 22M616 140q2 10 -4 22q4 6 2 10M636 152q-6 8 -4 20M654 166q-8 8 -10 18M668 184q-10 4 -14 14M452 166q10 2 14 12M440 188q12 0 18 8M430 214q12 -4 20 2M436 238q10 -8 20 -4M452 262q8 -10 18 -10M686 196q-10 6 -10 18M700 222q-12 4 -14 16M664 214q6 10 0 22q8 8 4 16M642 262q14 8 34 6M634 280q20 10 44 6M694 250q-10 8 -8 22M500 160q10 8 24 4M546 152q10 10 22 4M590 160q8 10 20 8M470 200q10 10 24 6" fill="none" stroke="#3a3a3a" stroke-width="4" stroke-linecap="round" filter="url(#b1)" opacity="0.9"/>
<path d="M522 203Q550 184 588 189Q626 200 650 226Q662 244 656 262" fill="none" stroke="#777" stroke-width="8" filter="url(#b15)"/>
<path d="M516 194Q548 173 590 179Q632 192 660 222Q672 242 664 266" fill="none" stroke="#444" stroke-width="2.8" filter="url(#b1)"/>
<path d="M388 270Q396 330 392 369H520L514 358Q470 346 436 322Q406 296 400 250Z" fill="#707070" filter="url(#b15)"/>
<path d="M396 292Q400 325 397 360" stroke="#dcdcdc" stroke-width="4" fill="none" filter="url(#b15)"/>
<path d="M400 250Q406 296 436 322Q470 346 514 358" stroke="#1a1a1a" stroke-width="5.5" fill="none" filter="url(#b1)"/>
<path d="M436 338Q456 350 476 366" stroke="#b4b4b4" stroke-width="6" fill="none" filter="url(#b2)"/>
<path d="M412 316Q420 340 416 366" stroke="#8a8a8a" stroke-width="6" fill="none" filter="url(#b2)"/>
<path d="M436 268Q450 244 480 240Q510 240 524 262Q532 292 521 326Q508 350 480 341Q450 328 438 302Z" fill="#7a7a7a" filter="url(#b15)"/>
<path d="M506 272l-36 -18M506 272l-50 4M506 272l-48 28M506 272l-32 50M506 272l-6 58M506 272l-16 -26M486 260l-10 -10M466 278l-14 -6M470 300l-14 8M486 312l-10 14M500 310l6 22" stroke="#444" stroke-width="2.6" fill="none" stroke-linecap="round" filter="url(#b1)"/>
<path d="M438 262Q456 238 486 236" stroke="#303030" stroke-width="4" fill="none" filter="url(#b15)"/>
<path d="M520 250Q532 278 522 304Q516 322 520 340" stroke="#242424" stroke-width="6.5" fill="none" filter="url(#b15)"/>
<path d="M546 244Q566 250 574 270Q578 294 566 320Q556 345 552 372H514Q522 340 530 310Q536 280 530 256Z" fill="#8e8e8e" filter="url(#b15)"/>
<path d="M574 296Q610 290 650 298Q690 306 712 296Q726 282 728 244L742 240V372H556Q564 330 574 296Z" fill="#1e1e1e" filter="url(#b2)"/>
<path d="M578 312Q610 300 642 312Q648 334 622 340Q588 340 578 312Z" fill="#020202" filter="url(#b2)"/>
<path d="M700 250Q728 240 733 280Q734 312 716 324Q698 300 700 250Z" fill="#060606" filter="url(#b2)"/>
<path d="M646 316Q676 310 694 324Q698 342 684 350Q660 352 648 340Z" fill="#444" filter="url(#b2)"/>
<path d="M702 340Q716 332 728 342Q732 352 726 358Q712 360 704 352Z" fill="#b0b0b0" filter="url(#b2)"/>
<circle cx="722" cy="347" r="2.5" fill="#333" filter="url(#b1)"/>
<path d="M560 338Q590 332 612 346L616 372H554Z" fill="#6a6a6a" filter="url(#b2)"/>
<path d="M598 284l10 5M602 299l8 3" stroke="#d8d8d8" stroke-width="3.5" fill="none" filter="url(#b1)"/>
<path d="M736 232Q743 290 735 326Q737 346 741 364" stroke="#5e5e5e" stroke-width="8" fill="none" filter="url(#b15)"/>
<path d="M620 356H700" stroke="#333" stroke-width="10" filter="url(#b2)"/>
<path d="M534 222Q528 206 540 202Q560 196 585 202Q615 212 640 232Q652 244 644 252Q636 256 626 254" fill="none" stroke="#adadad" stroke-width="8.5" stroke-linecap="round" filter="url(#b1)"/>
<ellipse cx="535" cy="216" rx="7.5" ry="11" fill="#adadad" filter="url(#b1)"/>
<path d="M556 208Q585 208 612 224Q630 238 632 246Q622 252 606 248Q596 232 580 222Q566 214 556 213Z" fill="#262626" filter="url(#b1)"/>
<ellipse cx="570" cy="238" rx="20" ry="13" fill="#858585" filter="url(#b2)"/>
<path d="M544 227Q552 219 566 222" stroke="#333" stroke-width="3.5" fill="none" filter="url(#b15)"/>
<path d="M582 262Q600 270 616 262" stroke="#2e2e2e" stroke-width="5" fill="none" filter="url(#b15)"/>
<ellipse cx="451.7" cy="167.4" rx="5" ry="10" fill="#2cb790"/>
<circle cx="460" cy="193.4" r="9.5" fill="#2cb790"/><ellipse cx="484" cy="188" rx="9" ry="6.5" fill="#2cb790"/><circle cx="470" cy="199" r="6" fill="#2cb790"/><rect x="464" y="186" width="16" height="8" fill="#2cb790"/>
<ellipse cx="507.3" cy="205.2" rx="15" ry="14" fill="#2cb790"/>
<ellipse cx="536" cy="183.6" rx="13.8" ry="11.6" fill="#2cb790"/><path d="M529 190L538 200L546 190Z" fill="#2cb790"/>
<path d="M658 148.5h6v2.5h4.6v3.5h-10.6z" fill="#2cb790"/>
<path d="M683.1 179.2 L689.2 175.2 L695.2 177.2 L703.2 186.2 L704.2 196.2 L707.3 200.3 L708.3 206.3 L713.3 212.3 L715.3 226.4 L718.3 236.4 L718.3 260.5 L713.3 276.6 L707.3 284.6 L698.2 286.6 L693.2 288.7 L695.2 298.7 L691.2 301.7 L686.2 298.7 L683.1 284.6 L682.1 268.6 L676.1 262.5 L669.1 258.5 L668.5 250.5 L673.1 243.5 L683.1 240.4 L690.2 236.4 L697.2 228.4 L698.2 208.3 L693.2 200.3 L690.2 190.2 L685.2 183.2Z" fill="#2cb790"/>
<path d="M672 228.4L682 226.4L683 229.4L678 231.5L677 235.4H672Z" fill="#2cb790"/>
<ellipse cx="706.5" cy="260" rx="5" ry="12" fill="#1b7d62" filter="url(#b3)" opacity="0.9"/><ellipse cx="707" cy="219" rx="3.5" ry="7" fill="#1f8a6c" filter="url(#b3)" opacity="0.6"/>
<circle cx="507.3" cy="205.5" r="6" fill="#249c7b" filter="url(#b3)" opacity="0.6"/><circle cx="536" cy="183" r="5" fill="#249c7b" filter="url(#b3)" opacity="0.6"/>
<path d="M613.1 163.9 L619.0 158.0 L625.0 159.2 L630.8 163.9 L642.6 167.4 L643.8 178.1 L640.3 187.5 L632.0 188.7 L623.8 182.8 L617.8 173.3Z" fill="#e87a10"/>
</g>
<rect x="49.5" y="33.5" width="708" height="396" fill="none" stroke="#000" stroke-width="3"/>
</g>
<!-- panel titles -->
<text x="50.2" y="20" class="pl">a</text>
<text x="83.5" y="19.8" class="t">Brain activity underpinning mood fluctuations</text>
<text x="786" y="19.3" class="pl">b</text>
<text x="816.6" y="19.8" class="t">Brain activity predicting choices</text>
<text x="34.3" y="459" class="pl">c</text>
<text x="66.6" y="459.6" class="t" xml:space="preserve">Expression of  theoretical mood level across time</text>
<text x="785.8" y="459.3" class="pl">d</text>
<text x="833.4" y="459.6" class="t">Computational effects of brain activity</text>
<!-- panel b -->
<g id="panel-b">
<path d="M817.9 74.6V429.5H1200" fill="none" stroke="#000" stroke-width="2"/>
<path d="M818 145.9h4.5M818 320.6h4.5" stroke="#000" stroke-width="1.6"/>
<line x1="818" x2="1197.5" y1="233.4" y2="233.4" stroke="#222" stroke-width="1"/>
<rect x="862.1" y="139.4" width="63.3" height="94.2" fill="#1b9e77" stroke="#000" stroke-width="1.75"/>
<rect x="938.1" y="233.8" width="63.4" height="118.8" fill="#d95f02" stroke="#000" stroke-width="1.75"/>
<rect x="1013.9" y="205.3" width="63.5" height="28.2" fill="#c8c8c8" stroke="#000" stroke-width="1.75"/>
<rect x="1090.1" y="209.5" width="63.3" height="24.1" fill="#666" stroke="#000" stroke-width="1.75"/>
<path d="M893.8 139V102M969.8 353V396.4M1045.6 205V160.1M1121.7 209V163.6" stroke="#000" stroke-width="2"/>
<text x="893.6" y="98.2" class="t m as">*</text><text x="970" y="417.2" class="t m as">*</text>
<rect x="1028.05" y="293.05" width="117.8" height="103.7" fill="#fff" stroke="#000" stroke-width="1.9"/>
<rect x="1032.5" y="297.2" width="20.4" height="20.6" fill="#1b9e77" stroke="#000" stroke-width="1.75"/>
<rect x="1032.5" y="322.0" width="20.4" height="20.5" fill="#d95f02" stroke="#000" stroke-width="1.75"/>
<rect x="1032.5" y="346.5" width="20.4" height="20.5" fill="#c8c8c8" stroke="#000" stroke-width="1.75"/>
<rect x="1032.5" y="371.2" width="20.4" height="20.6" fill="#666" stroke="#000" stroke-width="1.75"/>
<text x="1061.8" y="311.9" class="t">vmPFC</text>
<text x="1061.8" y="336.7" class="t">aIns</text>
<text x="1061.8" y="361.5" class="t">vS</text>
<text x="1061.8" y="386.8" class="t">dmPFC</text>
<text transform="translate(798.5 258) rotate(-90)" class="t m yl">Estimate (a.u.)</text>
</g>
<!-- panel c -->
<g id="panel-c">
<clipPath id="cl1"><rect x="72.4" y="480.2" width="308.5" height="309.59999999999997"/></clipPath>
<g clip-path="url(#cl1)">
<polygon points="72.4,526.6 98.1,517.1 123.8,505.7 149.5,521.1 175.2,537.6 200.9,543.4 226.7,561.0 252.4,574.1 278.1,579.5 303.8,584.2 329.5,582.2 355.2,581.1 380.9,594.2 380.9,638.4 355.2,629.3 329.5,635.9 303.8,638.4 278.1,630.3 252.4,619.9 226.7,604.3 200.9,587.4 175.2,580.4 149.5,563.3 123.8,549.2 98.1,550.7 72.4,559.3" fill="#1b9e77" fill-opacity="0.205"/>
<polygon points="72.4,660.1 98.1,678.2 123.8,689.8 149.5,679.8 175.2,676.6 200.9,681.8 226.7,688.3 252.4,676.5 278.1,660.4 303.8,636.3 329.5,626.3 355.2,624.3 380.9,634.3 380.9,674.1 355.2,674.5 329.5,682.6 303.8,671.7 278.1,698.2 252.4,714.3 226.7,719.3 200.9,717.3 175.2,705.9 149.5,708.3 123.8,717.3 98.1,709.3 72.4,691.2" fill="#d95f02" fill-opacity="0.2"/>
<line x1="72.4" x2="380.9" y1="634.7" y2="634.7" stroke="#777" stroke-width="1.1" stroke-dasharray="8 4.75"/>
<line x1="252.4" x2="252.4" y1="480.2" y2="789.8" stroke="#777" stroke-width="1.1" stroke-dasharray="8 4.8"/>
<polyline points="72.4,543.8 98.1,533.6 123.8,527.6 149.5,541.2 175.2,558.9 200.9,565.9 226.7,582.8 252.4,597.2 278.1,605.2 303.8,611.3 329.5,608.8 355.2,604.8 380.9,616.9" fill="none" stroke="#1b9e77" stroke-width="3.1" stroke-linejoin="round"/>
<polyline points="72.4,675.2 98.1,693.8 123.8,703.9 149.5,694.2 175.2,691.2 200.9,699.2 226.7,704.7 252.4,695.6 278.1,680.5 303.8,654.0 329.5,654.8 355.2,649.0 380.9,653.4" fill="none" stroke="#d95f02" stroke-width="3.1" stroke-linejoin="round"/>
</g>
<rect x="72.4" y="480.2" width="308.5" height="309.6" fill="none" stroke="#262626" stroke-width="2.3"/>
<path d="M98.1 789.8v-4.8M98.1 480.2v4.8" stroke="#262626" stroke-width="1.9"/>
<path d="M149.5 789.8v-4.8M149.5 480.2v4.8" stroke="#262626" stroke-width="1.9"/>
<path d="M200.9 789.8v-4.8M200.9 480.2v4.8" stroke="#262626" stroke-width="1.9"/>
<path d="M252.4 789.8v-4.8M252.4 480.2v4.8" stroke="#262626" stroke-width="1.9"/>
<path d="M303.8 789.8v-4.8M303.8 480.2v4.8" stroke="#262626" stroke-width="1.9"/>
<path d="M355.2 789.8v-4.8M355.2 480.2v4.8" stroke="#262626" stroke-width="1.9"/>
<path d="M72.4 556.9h4.8M380.9 556.9h-4.8" stroke="#262626" stroke-width="1.9"/>
<path d="M72.4 712.4h4.8M380.9 712.4h-4.8" stroke="#262626" stroke-width="1.9"/>
<clipPath id="cl2"><rect x="453.9" y="478.8" width="304.70000000000005" height="306.99999999999994"/></clipPath>
<g clip-path="url(#cl2)">
<polygon points="453.9,548.8 479.3,546.4 504.7,505.5 530.1,523.3 555.5,535.7 580.9,516.4 606.2,512.5 631.6,552.9 657.0,555.4 682.4,522.1 707.8,527.0 733.2,537.6 758.6,525.7 758.6,621.2 733.2,649.1 707.8,637.0 682.4,625.3 657.0,644.4 631.6,651.2 606.2,607.6 580.9,638.8 555.5,659.9 530.1,635.0 504.7,601.2 479.3,636.4 453.9,643.4" fill="#1b9e77" fill-opacity="0.205"/>
<polygon points="453.9,604.0 479.3,613.1 504.7,665.3 530.1,625.0 555.5,607.0 580.9,614.0 606.2,597.5 631.6,640.0 657.0,651.8 682.4,641.6 707.8,589.0 733.2,561.8 758.6,588.0 758.6,679.9 733.2,674.6 707.8,672.4 682.4,730.9 657.0,754.7 631.6,720.3 606.2,712.6 580.9,717.5 555.5,694.4 530.1,706.4 504.7,747.0 479.3,716.5 453.9,684.3" fill="#d95f02" fill-opacity="0.2"/>
<line x1="453.9" x2="758.6" y1="632.5" y2="632.5" stroke="#777" stroke-width="1.1" stroke-dasharray="8 4.75"/>
<line x1="631.6" x2="631.6" y1="478.8" y2="785.8" stroke="#777" stroke-width="1.1" stroke-dasharray="8 4.8"/>
<polyline points="453.9,597.2 479.3,591.0 504.7,551.3 530.1,578.6 555.5,598.4 580.9,579.1 606.2,559.3 631.6,602.2 657.0,599.6 682.4,573.5 707.8,580.5 733.2,593.3 758.6,572.0" fill="none" stroke="#1b9e77" stroke-width="3.1" stroke-linejoin="round"/>
<polyline points="453.9,642.8 479.3,665.6 504.7,706.4 530.1,665.9 555.5,649.7 580.9,666.1 606.2,654.3 631.6,679.9 657.0,703.3 682.4,685.8 707.8,630.5 733.2,618.0 758.6,633.9" fill="none" stroke="#d95f02" stroke-width="3.1" stroke-linejoin="round"/>
</g>
<rect x="453.9" y="478.8" width="304.7" height="307.0" fill="none" stroke="#262626" stroke-width="2.3"/>
<path d="M479.3 785.8v-4.8M479.3 478.8v4.8" stroke="#262626" stroke-width="1.9"/>
<path d="M530.1 785.8v-4.8M530.1 478.8v4.8" stroke="#262626" stroke-width="1.9"/>
<path d="M580.9 785.8v-4.8M580.9 478.8v4.8" stroke="#262626" stroke-width="1.9"/>
<path d="M631.6 785.8v-4.8M631.6 478.8v4.8" stroke="#262626" stroke-width="1.9"/>
<path d="M682.4 785.8v-4.8M682.4 478.8v4.8" stroke="#262626" stroke-width="1.9"/>
<path d="M733.2 785.8v-4.8M733.2 478.8v4.8" stroke="#262626" stroke-width="1.9"/>
<path d="M453.9 533.8h4.8M758.6 533.8h-4.8" stroke="#262626" stroke-width="1.9"/>
<path d="M453.9 730.6h4.8M758.6 730.6h-4.8" stroke="#262626" stroke-width="1.9"/>
<text x="62.8" y="562.9" class="t e">0.1</text><text x="63.6" y="641.2" class="t e">0</text><text x="62.8" y="718.6" class="t e">−0.1</text>
<text x="98.1" y="813.5" class="t m">−6</text><text x="149.5" y="813.5" class="t m">−4</text><text x="252.3" y="813.5" class="t m">Prospect</text><text x="355.1" y="813.5" class="t m">+4</text>
<text x="226.5" y="841.5" class="t m">Time (s)</text>
<text transform="translate(14.9 632.2) rotate(-90)" class="t m yl">Estimate (a.u.)</text>
<rect x="245" y="489.1" width="123.4" height="65.8" fill="#fff" stroke="#000" stroke-width="2"/>
<path d="M253.4 514.9L271 496.6" stroke="#1b9e77" stroke-width="3.1"/><path d="M253.4 546.1L271 529" stroke="#d95f02" stroke-width="3.1"/>
<text x="281.6" y="509.8" class="t">vmPFC</text><text x="281.6" y="543.6" class="t">aIns</text>
<text x="444.6" y="540.3" class="t e">0.05</text><text x="444.6" y="639" class="t e">0</text><text x="444.6" y="737.2" class="t e">−0.05</text>
<text x="478" y="812.6" class="t m">−6</text><text x="528.6" y="812.6" class="t m">−4</text><text x="630.6" y="812.6" class="t m">Prospect</text><text x="732.2" y="812.6" class="t m">+4</text>
<text x="597" y="841.3" class="t m">Time (s)</text>
<text x="477" y="502" class="t">After removing last feedback</text>
</g>
<!-- panel d -->
<g id="panel-d">
<rect x="817.3" y="477.9" width="169.3" height="308" fill="none" stroke="#000" stroke-width="2.1"/>
<rect x="1026.5" y="480.1" width="172.5" height="307.8" fill="none" stroke="#000" stroke-width="2.1"/>
<path d="M817.3 516.2h3M986.6 516.2h-3M817.3 593.5h3M986.6 593.5h-3M817.3 670.9h3M986.6 670.9h-3M817.3 748.2h3M986.6 748.2h-3M1026.5 517.6h3M1199 517.6h-3M1026.5 595h3M1199 595h-3M1026.5 672.4h3M1199 672.4h-3M1026.5 749.6h3M1199 749.6h-3" stroke="#000" stroke-width="1.6"/>
<line x1="817.3" x2="986.6" y1="670.8" y2="670.8" stroke="#555" stroke-width="1"/>
<line x1="1026.5" x2="1199" y1="672.4" y2="672.4" stroke="#555" stroke-width="1"/>
<rect x="827.1" y="597.9" width="64.8" height="73.0" fill="#1b9e77" stroke="#000" stroke-width="1.75"/>
<rect x="911.9" y="670.7" width="65.0" height="33.2" fill="#d95f02" stroke="#000" stroke-width="1.75"/>
<rect x="1036.4" y="672.3" width="66.2" height="17.6" fill="#1b9e77" stroke="#000" stroke-width="1.75"/>
<rect x="1122.4" y="578.1" width="66.5" height="94.4" fill="#d95f02" stroke="#000" stroke-width="1.75"/>
<path d="M859.6 598V571.2M944 704V744.6M1069.5 690V726.9M1155.8 578V534.6" stroke="#000" stroke-width="2"/>
<text x="859.6" y="568.3" class="t m as">*</text><text x="1155.8" y="533.2" class="t m as">*</text>
<rect x="949.2" y="530.1" width="117.6" height="54.2" fill="#fff" stroke="#000" stroke-width="2"/>
<rect x="953.5" y="534.3" width="20.4" height="20.5" fill="#1b9e77" stroke="#000" stroke-width="1.75"/>
<rect x="953.5" y="559.4" width="20.4" height="20.5" fill="#d95f02" stroke="#000" stroke-width="1.75"/>
<text x="984.4" y="549.2" class="t">vmPFC</text><text x="984.4" y="572.7" class="t">aIns</text>
<text transform="translate(794 628) rotate(-90)" class="t m yl">Estimate (a.u.)</text>
<text x="886.3" y="769" class="t"><tspan class="i">k</tspan><tspan class="sub" dy="5">mg</tspan></text>
<text x="1095.2" y="769" class="t"><tspan class="i">k</tspan><tspan class="sub" dy="5">ml</tspan></text>
<text x="834.2" y="814.8" class="t">Modulation of <tspan class="i">k</tspan><tspan class="sub" dy="5">g</tspan></text>
<text x="1047.2" y="814.8" class="t">Modulation of <tspan class="i">k</tspan><tspan class="sub" dy="5">l</tspan></text>
</g>
</g>
</svg>
</body></html>
